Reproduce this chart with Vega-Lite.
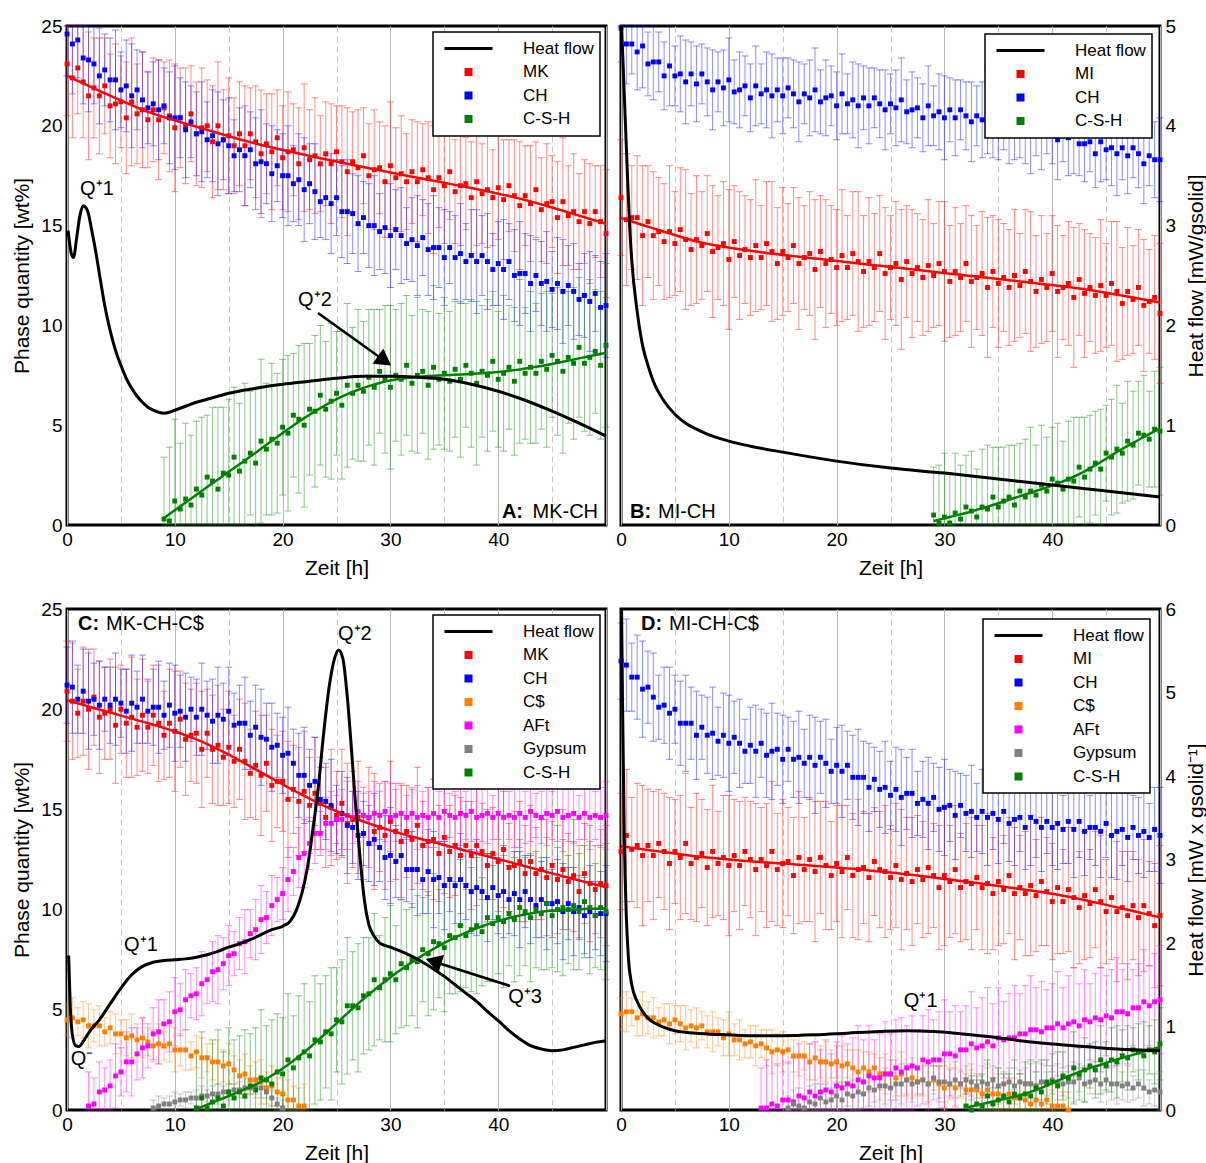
{
  "$schema": "https://vega.github.io/schema/vega-lite/v6.json",
  "background": "white",
  "padding": {"left": 10, "top": 15, "right": 0, "bottom": 0},
  "datasets": {
    "A_MK": [{"t":0,"v":23.1,"e":2.6},{"t":0.5,"v":22.4,"e":3.0},{"t":1,"v":22.9,"e":2.3},{"t":1.5,"v":22.2,"e":2.8},{"t":2,"v":21.5,"e":3.2},{"t":2.5,"v":21.9,"e":2.5},{"t":3,"v":21.5,"e":2.9},{"t":3.5,"v":22.0,"e":2.4},{"t":4,"v":21.0,"e":2.6},{"t":4.5,"v":21.1,"e":3.0},{"t":5,"v":21.2,"e":2.3},{"t":5.5,"v":20.4,"e":2.8},{"t":6,"v":21.2,"e":3.2},{"t":6.5,"v":20.6,"e":2.5},{"t":7,"v":20.8,"e":2.9},{"t":7.5,"v":20.3,"e":2.4},{"t":8,"v":20.8,"e":2.6},{"t":8.5,"v":20.3,"e":3.0},{"t":9,"v":20.9,"e":2.3},{"t":9.5,"v":20.5,"e":2.8},{"t":10,"v":19.9,"e":3.2},{"t":10.5,"v":20.4,"e":2.5},{"t":11,"v":20.0,"e":2.9},{"t":11.5,"v":20.6,"e":2.4},{"t":12,"v":19.6,"e":2.6},{"t":12.5,"v":19.9,"e":3.0},{"t":13,"v":20.0,"e":2.3},{"t":13.5,"v":19.2,"e":2.8},{"t":14,"v":20.0,"e":3.2},{"t":14.5,"v":19.3,"e":2.5},{"t":15,"v":19.5,"e":2.9},{"t":15.5,"v":19.0,"e":2.4},{"t":16,"v":19.6,"e":2.6},{"t":16.5,"v":19.0,"e":3.0},{"t":17,"v":19.6,"e":2.3},{"t":17.5,"v":19.2,"e":2.8},{"t":18,"v":18.6,"e":3.2},{"t":18.5,"v":19.1,"e":2.5},{"t":19,"v":18.7,"e":2.9},{"t":19.5,"v":19.4,"e":2.4},{"t":20,"v":18.4,"e":2.6},{"t":20.5,"v":18.7,"e":3.0},{"t":21,"v":18.8,"e":2.3},{"t":21.5,"v":18.1,"e":2.8},{"t":22,"v":18.9,"e":3.2},{"t":22.5,"v":18.3,"e":2.5},{"t":23,"v":18.5,"e":2.9},{"t":23.5,"v":18.1,"e":2.4},{"t":24,"v":18.6,"e":2.6},{"t":24.5,"v":18.1,"e":3.0},{"t":25,"v":18.7,"e":2.3},{"t":25.5,"v":18.2,"e":2.8},{"t":26,"v":17.7,"e":3.2},{"t":26.5,"v":18.2,"e":2.5},{"t":27,"v":17.9,"e":2.9},{"t":27.5,"v":18.5,"e":2.4},{"t":28,"v":17.5,"e":2.6},{"t":28.5,"v":17.8,"e":3.0},{"t":29,"v":17.9,"e":2.3},{"t":29.5,"v":17.2,"e":2.8},{"t":30,"v":18.0,"e":3.2},{"t":30.5,"v":17.4,"e":2.5},{"t":31,"v":17.6,"e":2.9},{"t":31.5,"v":17.2,"e":2.4},{"t":32,"v":17.7,"e":2.6},{"t":32.5,"v":17.2,"e":3.0},{"t":33,"v":17.8,"e":2.3},{"t":33.5,"v":17.4,"e":2.8},{"t":34,"v":16.8,"e":3.2},{"t":34.5,"v":17.4,"e":2.5},{"t":35,"v":17.0,"e":2.9},{"t":35.5,"v":17.7,"e":2.4},{"t":36,"v":16.7,"e":2.6},{"t":36.5,"v":17.0,"e":3.0},{"t":37,"v":17.1,"e":2.3},{"t":37.5,"v":16.4,"e":2.8},{"t":38,"v":17.2,"e":3.2},{"t":38.5,"v":16.6,"e":2.5},{"t":39,"v":16.8,"e":2.9},{"t":39.5,"v":16.4,"e":2.4},{"t":40,"v":16.9,"e":2.6},{"t":40.5,"v":16.3,"e":3.0},{"t":41,"v":17.0,"e":2.3},{"t":41.5,"v":16.5,"e":2.8},{"t":42,"v":16.0,"e":3.2},{"t":42.5,"v":16.5,"e":2.5},{"t":43,"v":16.1,"e":2.9},{"t":43.5,"v":16.8,"e":2.4},{"t":44,"v":15.8,"e":2.6},{"t":44.5,"v":16.1,"e":3.0},{"t":45,"v":16.2,"e":2.3},{"t":45.5,"v":15.4,"e":2.8},{"t":46,"v":16.2,"e":3.2},{"t":46.5,"v":15.5,"e":2.5},{"t":47,"v":15.7,"e":2.9},{"t":47.5,"v":15.2,"e":2.4},{"t":48,"v":15.7,"e":2.6},{"t":48.5,"v":15.1,"e":3.0},{"t":49,"v":15.7,"e":2.3},{"t":49.5,"v":15.2,"e":2.8},{"t":50,"v":14.6,"e":3.2}],
    "A_CH": [{"t":0,"v":24.6,"e":2.1},{"t":0.5,"v":24.1,"e":2.5},{"t":1,"v":24.3,"e":1.9},{"t":1.5,"v":23.4,"e":2.3},{"t":2,"v":23.3,"e":2.6},{"t":2.5,"v":23.1,"e":2.0},{"t":3,"v":22.5,"e":2.4},{"t":3.5,"v":22.8,"e":1.8},{"t":4,"v":22.3,"e":2.1},{"t":4.5,"v":22.3,"e":2.5},{"t":5,"v":21.8,"e":1.9},{"t":5.5,"v":22.0,"e":2.3},{"t":6,"v":21.5,"e":2.6},{"t":6.5,"v":21.8,"e":2.0},{"t":7,"v":21.3,"e":2.4},{"t":7.5,"v":20.9,"e":1.8},{"t":8,"v":21.1,"e":2.1},{"t":8.5,"v":20.8,"e":2.5},{"t":9,"v":21.0,"e":1.9},{"t":9.5,"v":20.4,"e":2.3},{"t":10,"v":20.4,"e":2.6},{"t":10.5,"v":20.4,"e":2.0},{"t":11,"v":19.8,"e":2.4},{"t":11.5,"v":20.2,"e":1.8},{"t":12,"v":19.6,"e":2.1},{"t":12.5,"v":19.7,"e":2.5},{"t":13,"v":19.3,"e":1.9},{"t":13.5,"v":19.5,"e":2.3},{"t":14,"v":19.1,"e":2.6},{"t":14.5,"v":19.3,"e":2.0},{"t":15,"v":19.0,"e":2.4},{"t":15.5,"v":18.5,"e":1.8},{"t":16,"v":18.8,"e":2.1},{"t":16.5,"v":18.5,"e":2.5},{"t":17,"v":18.8,"e":1.9},{"t":17.5,"v":18.1,"e":2.3},{"t":18,"v":18.2,"e":2.6},{"t":18.5,"v":18.1,"e":2.0},{"t":19,"v":17.6,"e":2.4},{"t":19.5,"v":18.0,"e":1.8},{"t":20,"v":17.5,"e":2.1},{"t":20.5,"v":17.5,"e":2.5},{"t":21,"v":17.1,"e":1.9},{"t":21.5,"v":17.3,"e":2.3},{"t":22,"v":16.8,"e":2.6},{"t":22.5,"v":17.1,"e":2.0},{"t":23,"v":16.7,"e":2.4},{"t":23.5,"v":16.2,"e":1.8},{"t":24,"v":16.4,"e":2.1},{"t":24.5,"v":16.1,"e":2.5},{"t":25,"v":16.4,"e":1.9},{"t":25.5,"v":15.7,"e":2.3},{"t":26,"v":15.7,"e":2.6},{"t":26.5,"v":15.6,"e":2.0},{"t":27,"v":15.1,"e":2.4},{"t":27.5,"v":15.4,"e":1.8},{"t":28,"v":15.0,"e":2.1},{"t":28.5,"v":15.0,"e":2.5},{"t":29,"v":14.7,"e":1.9},{"t":29.5,"v":14.9,"e":2.3},{"t":30,"v":14.5,"e":2.6},{"t":30.5,"v":14.8,"e":2.0},{"t":31,"v":14.5,"e":2.4},{"t":31.5,"v":14.1,"e":1.8},{"t":32,"v":14.3,"e":2.1},{"t":32.5,"v":14.0,"e":2.5},{"t":33,"v":14.4,"e":1.9},{"t":33.5,"v":13.8,"e":2.3},{"t":34,"v":13.9,"e":2.6},{"t":34.5,"v":13.9,"e":2.0},{"t":35,"v":13.4,"e":2.4},{"t":35.5,"v":13.9,"e":1.8},{"t":36,"v":13.4,"e":2.1},{"t":36.5,"v":13.6,"e":2.5},{"t":37,"v":13.2,"e":1.9},{"t":37.5,"v":13.5,"e":2.3},{"t":38,"v":13.2,"e":2.6},{"t":38.5,"v":13.5,"e":2.0},{"t":39,"v":13.2,"e":2.4},{"t":39.5,"v":12.8,"e":1.8},{"t":40,"v":13.1,"e":2.1},{"t":40.5,"v":12.8,"e":2.5},{"t":41,"v":13.2,"e":1.9},{"t":41.5,"v":12.5,"e":2.3},{"t":42,"v":12.6,"e":2.6},{"t":42.5,"v":12.6,"e":2.0},{"t":43,"v":12.1,"e":2.4},{"t":43.5,"v":12.5,"e":1.8},{"t":44,"v":12.1,"e":2.1},{"t":44.5,"v":12.2,"e":2.5},{"t":45,"v":11.8,"e":1.9},{"t":45.5,"v":12.1,"e":2.3},{"t":46,"v":11.7,"e":2.6},{"t":46.5,"v":12.0,"e":2.0},{"t":47,"v":11.7,"e":2.4},{"t":47.5,"v":11.3,"e":1.8},{"t":48,"v":11.5,"e":2.1},{"t":48.5,"v":11.2,"e":2.5},{"t":49,"v":11.6,"e":1.9},{"t":49.5,"v":10.9,"e":2.3},{"t":50,"v":11.0,"e":2.6}],
    "A_CSH": [{"t":9,"v":0.3,"e":3.1},{"t":9.5,"v":0.2,"e":3.7},{"t":10,"v":1.2,"e":4.1},{"t":10.5,"v":0.8,"e":3.3},{"t":11,"v":1.3,"e":3.8},{"t":11.5,"v":1.0,"e":3.5},{"t":12,"v":1.8,"e":3.4},{"t":12.5,"v":1.5,"e":3.9},{"t":13,"v":2.4,"e":3.1},{"t":13.5,"v":2.2,"e":3.7},{"t":14,"v":1.8,"e":4.1},{"t":14.5,"v":2.6,"e":3.3},{"t":15,"v":2.5,"e":3.8},{"t":15.5,"v":3.4,"e":3.5},{"t":16,"v":2.7,"e":3.4},{"t":16.5,"v":3.2,"e":3.9},{"t":17,"v":3.6,"e":3.1},{"t":17.5,"v":3.1,"e":3.7},{"t":18,"v":4.2,"e":4.1},{"t":18.5,"v":3.8,"e":3.3},{"t":19,"v":4.3,"e":3.8},{"t":19.5,"v":4.1,"e":3.5},{"t":20,"v":4.9,"e":3.4},{"t":20.5,"v":4.6,"e":3.9},{"t":21,"v":5.5,"e":3.1},{"t":21.5,"v":5.3,"e":3.7},{"t":22,"v":5.0,"e":4.1},{"t":22.5,"v":5.8,"e":3.3},{"t":23,"v":5.7,"e":3.8},{"t":23.5,"v":6.5,"e":3.5},{"t":24,"v":5.8,"e":3.4},{"t":24.5,"v":6.2,"e":3.9},{"t":25,"v":6.6,"e":3.1},{"t":25.5,"v":6.0,"e":3.7},{"t":26,"v":7.0,"e":4.1},{"t":26.5,"v":6.6,"e":3.3},{"t":27,"v":7.0,"e":3.8},{"t":27.5,"v":6.7,"e":3.5},{"t":28,"v":7.4,"e":3.4},{"t":28.5,"v":6.9,"e":3.9},{"t":29,"v":7.7,"e":3.1},{"t":29.5,"v":7.3,"e":3.7},{"t":30,"v":6.9,"e":4.1},{"t":30.5,"v":7.5,"e":3.3},{"t":31,"v":7.3,"e":3.8},{"t":31.5,"v":8.0,"e":3.5},{"t":32,"v":7.1,"e":3.4},{"t":32.5,"v":7.5,"e":3.9},{"t":33,"v":7.7,"e":3.1},{"t":33.5,"v":7.0,"e":3.7},{"t":34,"v":7.9,"e":4.1},{"t":34.5,"v":7.3,"e":3.3},{"t":35,"v":7.6,"e":3.8},{"t":35.5,"v":7.2,"e":3.5},{"t":36,"v":7.8,"e":3.4},{"t":36.5,"v":7.3,"e":3.9},{"t":37,"v":8.0,"e":3.1},{"t":37.5,"v":7.6,"e":3.7},{"t":38,"v":7.1,"e":4.1},{"t":38.5,"v":7.7,"e":3.3},{"t":39,"v":7.5,"e":3.8},{"t":39.5,"v":8.2,"e":3.5},{"t":40,"v":7.3,"e":3.4},{"t":40.5,"v":7.6,"e":3.9},{"t":41,"v":7.9,"e":3.1},{"t":41.5,"v":7.2,"e":3.7},{"t":42,"v":8.2,"e":4.1},{"t":42.5,"v":7.6,"e":3.3},{"t":43,"v":7.9,"e":3.8},{"t":43.5,"v":7.6,"e":3.5},{"t":44,"v":8.2,"e":3.4},{"t":44.5,"v":7.8,"e":3.9},{"t":45,"v":8.5,"e":3.1},{"t":45.5,"v":8.2,"e":3.7},{"t":46,"v":7.7,"e":4.1},{"t":46.5,"v":8.4,"e":3.3},{"t":47,"v":8.1,"e":3.8},{"t":47.5,"v":8.9,"e":3.5},{"t":48,"v":8.1,"e":3.4},{"t":48.5,"v":8.4,"e":3.9},{"t":49,"v":8.7,"e":3.1},{"t":49.5,"v":8.0,"e":3.7},{"t":50,"v":9.0,"e":4.1}],
    "A_heat": [{"t":0.1,"h":2.95},{"t":0.4,"h":2.72},{"t":0.6,"h":2.68},{"t":0.9,"h":2.88},{"t":1.2,"h":3.1},{"t":1.5,"h":3.2},{"t":1.9,"h":3.15},{"t":2.3,"h":2.95},{"t":2.7,"h":2.72},{"t":3,"h":2.52},{"t":3.5,"h":2.2},{"t":4,"h":1.95},{"t":4.5,"h":1.75},{"t":5,"h":1.6},{"t":5.5,"h":1.47},{"t":6,"h":1.37},{"t":6.5,"h":1.29},{"t":7,"h":1.23},{"t":7.5,"h":1.18},{"t":8,"h":1.15},{"t":8.5,"h":1.13},{"t":9,"h":1.12},{"t":9.5,"h":1.13},{"t":10,"h":1.15},{"t":11,"h":1.19},{"t":12,"h":1.23},{"t":13,"h":1.26},{"t":14,"h":1.29},{"t":15,"h":1.32},{"t":17.5,"h":1.37},{"t":20,"h":1.41},{"t":22.5,"h":1.44},{"t":25,"h":1.47},{"t":27.5,"h":1.49},{"t":30,"h":1.49},{"t":32.5,"h":1.48},{"t":35,"h":1.46},{"t":37.5,"h":1.41},{"t":40,"h":1.34},{"t":42.5,"h":1.25},{"t":45,"h":1.14},{"t":47.5,"h":1.02},{"t":50,"h":0.89}],
    "B_MI": [{"t":0,"v":16.4,"e":2.9},{"t":0.5,"v":15.3,"e":3.3},{"t":1,"v":15.4,"e":2.6},{"t":1.5,"v":15.4,"e":3.1},{"t":2,"v":14.5,"e":3.5},{"t":2.5,"v":15.2,"e":2.8},{"t":3,"v":14.5,"e":3.2},{"t":3.5,"v":14.7,"e":2.7},{"t":4,"v":14.2,"e":2.9},{"t":4.5,"v":14.7,"e":3.3},{"t":5,"v":14.1,"e":2.6},{"t":5.5,"v":14.8,"e":3.1},{"t":6,"v":14.3,"e":3.5},{"t":6.5,"v":13.8,"e":2.8},{"t":7,"v":14.3,"e":3.2},{"t":7.5,"v":14.0,"e":2.7},{"t":8,"v":14.6,"e":2.9},{"t":8.5,"v":13.7,"e":3.3},{"t":9,"v":13.9,"e":2.6},{"t":9.5,"v":14.1,"e":3.1},{"t":10,"v":13.3,"e":3.5},{"t":10.5,"v":14.2,"e":2.8},{"t":11,"v":13.5,"e":3.2},{"t":11.5,"v":13.8,"e":2.7},{"t":12,"v":13.4,"e":2.9},{"t":12.5,"v":14.0,"e":3.3},{"t":13,"v":13.4,"e":2.6},{"t":13.5,"v":14.1,"e":3.1},{"t":14,"v":13.7,"e":3.5},{"t":14.5,"v":13.1,"e":2.8},{"t":15,"v":13.7,"e":3.2},{"t":15.5,"v":13.4,"e":2.7},{"t":16,"v":14.0,"e":2.9},{"t":16.5,"v":13.1,"e":3.3},{"t":17,"v":13.4,"e":2.6},{"t":17.5,"v":13.6,"e":3.1},{"t":18,"v":12.8,"e":3.5},{"t":18.5,"v":13.7,"e":2.8},{"t":19,"v":13.1,"e":3.2},{"t":19.5,"v":13.3,"e":2.7},{"t":20,"v":12.9,"e":2.9},{"t":20.5,"v":13.5,"e":3.3},{"t":21,"v":12.9,"e":2.6},{"t":21.5,"v":13.6,"e":3.1},{"t":22,"v":13.2,"e":3.5},{"t":22.5,"v":12.7,"e":2.8},{"t":23,"v":13.2,"e":3.2},{"t":23.5,"v":12.9,"e":2.7},{"t":24,"v":13.6,"e":2.9},{"t":24.5,"v":12.6,"e":3.3},{"t":25,"v":12.9,"e":2.6},{"t":25.5,"v":13.1,"e":3.1},{"t":26,"v":12.3,"e":3.5},{"t":26.5,"v":13.2,"e":2.8},{"t":27,"v":12.6,"e":3.2},{"t":27.5,"v":12.9,"e":2.7},{"t":28,"v":12.4,"e":2.9},{"t":28.5,"v":13.0,"e":3.3},{"t":29,"v":12.5,"e":2.6},{"t":29.5,"v":13.1,"e":3.1},{"t":30,"v":12.7,"e":3.5},{"t":30.5,"v":12.2,"e":2.8},{"t":31,"v":12.7,"e":3.2},{"t":31.5,"v":12.4,"e":2.7},{"t":32,"v":13.1,"e":2.9},{"t":32.5,"v":12.2,"e":3.3},{"t":33,"v":12.4,"e":2.6},{"t":33.5,"v":12.6,"e":3.1},{"t":34,"v":11.9,"e":3.5},{"t":34.5,"v":12.7,"e":2.8},{"t":35,"v":12.1,"e":3.2},{"t":35.5,"v":12.4,"e":2.7},{"t":36,"v":11.9,"e":2.9},{"t":36.5,"v":12.5,"e":3.3},{"t":37,"v":12.0,"e":2.6},{"t":37.5,"v":12.7,"e":3.1},{"t":38,"v":12.2,"e":3.5},{"t":38.5,"v":11.7,"e":2.8},{"t":39,"v":12.3,"e":3.2},{"t":39.5,"v":11.9,"e":2.7},{"t":40,"v":12.6,"e":2.9},{"t":40.5,"v":11.7,"e":3.3},{"t":41,"v":11.9,"e":2.6},{"t":41.5,"v":12.1,"e":3.1},{"t":42,"v":11.4,"e":3.5},{"t":42.5,"v":12.3,"e":2.8},{"t":43,"v":11.6,"e":3.2},{"t":43.5,"v":11.9,"e":2.7},{"t":44,"v":11.5,"e":2.9},{"t":44.5,"v":12.0,"e":3.3},{"t":45,"v":11.5,"e":2.6},{"t":45.5,"v":12.1,"e":3.1},{"t":46,"v":11.7,"e":3.5},{"t":46.5,"v":11.1,"e":2.8},{"t":47,"v":11.7,"e":3.2},{"t":47.5,"v":11.3,"e":2.7},{"t":48,"v":11.9,"e":2.9},{"t":48.5,"v":11.0,"e":3.3},{"t":49,"v":11.2,"e":2.6},{"t":49.5,"v":11.4,"e":3.1},{"t":50,"v":10.6,"e":3.5}],
    "B_CH": [{"t":0,"v":24.9,"e":1.7},{"t":0.5,"v":24.1,"e":2.0},{"t":1,"v":24.1,"e":1.5},{"t":1.5,"v":23.7,"e":1.9},{"t":2,"v":24.0,"e":2.1},{"t":2.5,"v":23.1,"e":1.6},{"t":3,"v":23.2,"e":1.9},{"t":3.5,"v":23.2,"e":1.5},{"t":4,"v":22.5,"e":1.7},{"t":4.5,"v":23.0,"e":2.0},{"t":5,"v":22.5,"e":1.5},{"t":5.5,"v":22.6,"e":1.9},{"t":6,"v":22.2,"e":2.1},{"t":6.5,"v":22.6,"e":1.6},{"t":7,"v":22.1,"e":1.9},{"t":7.5,"v":22.6,"e":1.5},{"t":8,"v":22.2,"e":1.7},{"t":8.5,"v":21.8,"e":2.0},{"t":9,"v":22.2,"e":1.5},{"t":9.5,"v":21.9,"e":1.9},{"t":10,"v":22.3,"e":2.1},{"t":10.5,"v":21.7,"e":1.6},{"t":11,"v":21.8,"e":1.9},{"t":11.5,"v":22.0,"e":1.5},{"t":12,"v":21.4,"e":1.7},{"t":12.5,"v":22.0,"e":2.0},{"t":13,"v":21.6,"e":1.5},{"t":13.5,"v":21.8,"e":1.9},{"t":14,"v":21.5,"e":2.1},{"t":14.5,"v":21.8,"e":1.6},{"t":15,"v":21.5,"e":1.9},{"t":15.5,"v":21.9,"e":1.5},{"t":16,"v":21.6,"e":1.7},{"t":16.5,"v":21.2,"e":2.0},{"t":17,"v":21.6,"e":1.5},{"t":17.5,"v":21.4,"e":1.9},{"t":18,"v":21.8,"e":2.1},{"t":18.5,"v":21.2,"e":1.6},{"t":19,"v":21.4,"e":1.9},{"t":19.5,"v":21.5,"e":1.5},{"t":20,"v":21.0,"e":1.7},{"t":20.5,"v":21.6,"e":2.0},{"t":21,"v":21.1,"e":1.5},{"t":21.5,"v":21.3,"e":1.9},{"t":22,"v":21.0,"e":2.1},{"t":22.5,"v":21.4,"e":1.6},{"t":23,"v":21.0,"e":1.9},{"t":23.5,"v":21.4,"e":1.5},{"t":24,"v":21.1,"e":1.7},{"t":24.5,"v":20.8,"e":2.0},{"t":25,"v":21.1,"e":1.5},{"t":25.5,"v":20.9,"e":1.9},{"t":26,"v":21.3,"e":2.1},{"t":26.5,"v":20.7,"e":1.6},{"t":27,"v":20.8,"e":1.9},{"t":27.5,"v":20.9,"e":1.5},{"t":28,"v":20.4,"e":1.7},{"t":28.5,"v":21.0,"e":2.0},{"t":29,"v":20.5,"e":1.5},{"t":29.5,"v":20.7,"e":1.9},{"t":30,"v":20.4,"e":2.1},{"t":30.5,"v":20.8,"e":1.6},{"t":31,"v":20.4,"e":1.9},{"t":31.5,"v":20.8,"e":1.5},{"t":32,"v":20.5,"e":1.7},{"t":32.5,"v":20.2,"e":2.0},{"t":33,"v":20.5,"e":1.5},{"t":33.5,"v":20.3,"e":1.9},{"t":34,"v":20.7,"e":2.1},{"t":34.5,"v":20.0,"e":1.6},{"t":35,"v":20.2,"e":1.9},{"t":35.5,"v":20.3,"e":1.5},{"t":36,"v":19.8,"e":1.7},{"t":36.5,"v":20.3,"e":2.0},{"t":37,"v":19.9,"e":1.5},{"t":37.5,"v":20.0,"e":1.9},{"t":38,"v":19.7,"e":2.1},{"t":38.5,"v":20.1,"e":1.6},{"t":39,"v":19.7,"e":1.9},{"t":39.5,"v":20.1,"e":1.5},{"t":40,"v":19.8,"e":1.7},{"t":40.5,"v":19.3,"e":2.0},{"t":41,"v":19.7,"e":1.5},{"t":41.5,"v":19.4,"e":1.9},{"t":42,"v":19.7,"e":2.1},{"t":42.5,"v":19.1,"e":1.6},{"t":43,"v":19.1,"e":1.9},{"t":43.5,"v":19.2,"e":1.5},{"t":44,"v":18.6,"e":1.7},{"t":44.5,"v":19.2,"e":2.0},{"t":45,"v":18.8,"e":1.5},{"t":45.5,"v":18.9,"e":1.9},{"t":46,"v":18.6,"e":2.1},{"t":46.5,"v":18.9,"e":1.6},{"t":47,"v":18.5,"e":1.9},{"t":47.5,"v":18.9,"e":1.5},{"t":48,"v":18.6,"e":1.7},{"t":48.5,"v":18.1,"e":2.0},{"t":49,"v":18.5,"e":1.5},{"t":49.5,"v":18.3,"e":1.9},{"t":50,"v":18.3,"e":2.1}],
    "B_CSH": [{"t":29,"v":0.5,"e":2.4},{"t":29.5,"v":0.1,"e":2.9},{"t":30,"v":0.4,"e":3.2},{"t":30.5,"v":0.1,"e":2.5},{"t":31,"v":0.6,"e":3.0},{"t":31.5,"v":0.3,"e":2.7},{"t":32,"v":0.9,"e":2.6},{"t":32.5,"v":0.7,"e":3.0},{"t":33,"v":0.4,"e":2.4},{"t":33.5,"v":0.9,"e":2.9},{"t":34,"v":0.8,"e":3.2},{"t":34.5,"v":1.4,"e":2.5},{"t":35,"v":0.9,"e":3.0},{"t":35.5,"v":1.2,"e":2.7},{"t":36,"v":1.4,"e":2.6},{"t":36.5,"v":1.0,"e":3.0},{"t":37,"v":1.7,"e":2.4},{"t":37.5,"v":1.4,"e":2.9},{"t":38,"v":1.7,"e":3.2},{"t":38.5,"v":1.5,"e":2.5},{"t":39,"v":2.0,"e":3.0},{"t":39.5,"v":1.7,"e":2.7},{"t":40,"v":2.3,"e":2.6},{"t":40.5,"v":2.1,"e":3.0},{"t":41,"v":1.8,"e":2.4},{"t":41.5,"v":2.3,"e":2.9},{"t":42,"v":2.2,"e":3.2},{"t":42.5,"v":2.9,"e":2.5},{"t":43,"v":2.4,"e":3.0},{"t":43.5,"v":2.8,"e":2.7},{"t":44,"v":3.1,"e":2.6},{"t":44.5,"v":2.8,"e":3.0},{"t":45,"v":3.6,"e":2.4},{"t":45.5,"v":3.4,"e":2.9},{"t":46,"v":3.8,"e":3.2},{"t":46.5,"v":3.6,"e":2.5},{"t":47,"v":4.2,"e":3.0},{"t":47.5,"v":4.0,"e":2.7},{"t":48,"v":4.6,"e":2.6},{"t":48.5,"v":4.5,"e":3.0},{"t":49,"v":4.3,"e":2.4},{"t":49.5,"v":4.8,"e":2.9},{"t":50,"v":4.7,"e":3.2}],
    "B_heat": [{"t":0.05,"h":5.0},{"t":0.2,"h":4.6},{"t":0.4,"h":4.05},{"t":0.6,"h":3.5},{"t":0.8,"h":3.0},{"t":1,"h":2.65},{"t":1.5,"h":2.14},{"t":2,"h":1.8},{"t":2.5,"h":1.6},{"t":3,"h":1.44},{"t":4,"h":1.24},{"t":5,"h":1.11},{"t":6,"h":1.02},{"t":7,"h":0.96},{"t":8,"h":0.91},{"t":10,"h":0.84},{"t":12,"h":0.79},{"t":15,"h":0.73},{"t":20,"h":0.64},{"t":25,"h":0.57},{"t":30,"h":0.52},{"t":35,"h":0.46},{"t":40,"h":0.4},{"t":45,"h":0.34},{"t":50,"h":0.28}],
    "C_MK": [{"t":0,"v":20.9,"e":2.5},{"t":0.5,"v":20.4,"e":2.9},{"t":1,"v":19.8,"e":2.2},{"t":1.5,"v":20.4,"e":2.7},{"t":2,"v":20.0,"e":3.0},{"t":2.5,"v":20.6,"e":2.4},{"t":3,"v":19.6,"e":2.8},{"t":3.5,"v":19.8,"e":2.3},{"t":4,"v":20.0,"e":2.5},{"t":4.5,"v":19.2,"e":2.9},{"t":5,"v":20.0,"e":2.2},{"t":5.5,"v":19.3,"e":2.7},{"t":6,"v":19.6,"e":3.0},{"t":6.5,"v":19.1,"e":2.4},{"t":7,"v":19.7,"e":2.8},{"t":7.5,"v":19.1,"e":2.3},{"t":8,"v":19.7,"e":2.5},{"t":8.5,"v":19.3,"e":2.9},{"t":9,"v":18.7,"e":2.2},{"t":9.5,"v":19.3,"e":2.7},{"t":10,"v":18.9,"e":3.0},{"t":10.5,"v":19.5,"e":2.4},{"t":11,"v":18.5,"e":2.8},{"t":11.5,"v":18.7,"e":2.3},{"t":12,"v":18.8,"e":2.5},{"t":12.5,"v":18.0,"e":2.9},{"t":13,"v":18.8,"e":2.2},{"t":13.5,"v":18.0,"e":2.7},{"t":14,"v":18.2,"e":3.0},{"t":14.5,"v":17.6,"e":2.4},{"t":15,"v":18.1,"e":2.8},{"t":15.5,"v":17.4,"e":2.3},{"t":16,"v":18.0,"e":2.5},{"t":16.5,"v":17.4,"e":2.9},{"t":17,"v":16.8,"e":2.2},{"t":17.5,"v":17.2,"e":2.7},{"t":18,"v":16.7,"e":3.0},{"t":18.5,"v":17.3,"e":2.4},{"t":19,"v":16.2,"e":2.8},{"t":19.5,"v":16.4,"e":2.3},{"t":20,"v":16.4,"e":2.5},{"t":20.5,"v":15.5,"e":2.9},{"t":21,"v":16.0,"e":2.2},{"t":21.5,"v":15.4,"e":2.7},{"t":22,"v":15.9,"e":3.0},{"t":22.5,"v":15.2,"e":2.4},{"t":23,"v":15.8,"e":2.8},{"t":23.5,"v":15.3,"e":2.3},{"t":24,"v":14.6,"e":2.5},{"t":24.5,"v":15.1,"e":2.9},{"t":25,"v":14.7,"e":2.2},{"t":25.5,"v":15.3,"e":2.7},{"t":26,"v":14.3,"e":3.0},{"t":26.5,"v":14.5,"e":2.4},{"t":27,"v":14.6,"e":2.8},{"t":27.5,"v":13.8,"e":2.3},{"t":28,"v":14.6,"e":2.5},{"t":28.5,"v":13.9,"e":2.9},{"t":29,"v":14.1,"e":2.2},{"t":29.5,"v":13.7,"e":2.7},{"t":30,"v":14.4,"e":3.0},{"t":30.5,"v":13.9,"e":2.4},{"t":31,"v":13.4,"e":2.8},{"t":31.5,"v":13.9,"e":2.3},{"t":32,"v":13.5,"e":2.5},{"t":32.5,"v":14.2,"e":2.9},{"t":33,"v":13.2,"e":2.2},{"t":33.5,"v":13.4,"e":2.7},{"t":34,"v":13.5,"e":3.0},{"t":34.5,"v":12.8,"e":2.4},{"t":35,"v":13.6,"e":2.8},{"t":35.5,"v":12.9,"e":2.3},{"t":36,"v":13.2,"e":2.5},{"t":36.5,"v":12.7,"e":2.9},{"t":37,"v":13.2,"e":2.2},{"t":37.5,"v":12.7,"e":2.7},{"t":38,"v":13.2,"e":3.0},{"t":38.5,"v":12.9,"e":2.4},{"t":39,"v":12.2,"e":2.8},{"t":39.5,"v":12.8,"e":2.3},{"t":40,"v":12.4,"e":2.5},{"t":40.5,"v":13.0,"e":2.9},{"t":41,"v":12.1,"e":2.2},{"t":41.5,"v":12.2,"e":2.7},{"t":42,"v":12.4,"e":3.0},{"t":42.5,"v":11.8,"e":2.4},{"t":43,"v":12.4,"e":2.8},{"t":43.5,"v":11.8,"e":2.3},{"t":44,"v":12.0,"e":2.5},{"t":44.5,"v":11.6,"e":2.9},{"t":45,"v":12.2,"e":2.2},{"t":45.5,"v":11.5,"e":2.7},{"t":46,"v":12.0,"e":3.0},{"t":46.5,"v":11.4,"e":2.4},{"t":47,"v":11.7,"e":2.8},{"t":47.5,"v":10.9,"e":2.3},{"t":48,"v":11.8,"e":2.5},{"t":48.5,"v":11.3,"e":2.9},{"t":49,"v":11.0,"e":2.2},{"t":49.5,"v":11.3,"e":2.7},{"t":50,"v":11.2,"e":3.0}],
    "C_CH": [{"t":0,"v":21.2,"e":1.9},{"t":0.5,"v":21.1,"e":2.3},{"t":1,"v":20.5,"e":1.7},{"t":1.5,"v":20.9,"e":2.1},{"t":2,"v":20.4,"e":2.4},{"t":2.5,"v":20.5,"e":1.8},{"t":3,"v":20.2,"e":2.2},{"t":3.5,"v":20.5,"e":1.6},{"t":4,"v":20.2,"e":1.9},{"t":4.5,"v":20.5,"e":2.3},{"t":5,"v":20.3,"e":1.7},{"t":5.5,"v":19.9,"e":2.1},{"t":6,"v":20.3,"e":2.4},{"t":6.5,"v":20.1,"e":1.8},{"t":7,"v":20.5,"e":2.2},{"t":7.5,"v":19.9,"e":1.6},{"t":8,"v":20.1,"e":1.9},{"t":8.5,"v":20.1,"e":2.3},{"t":9,"v":19.7,"e":1.7},{"t":9.5,"v":20.2,"e":2.1},{"t":10,"v":19.8,"e":2.4},{"t":10.5,"v":19.9,"e":1.8},{"t":11,"v":19.6,"e":2.2},{"t":11.5,"v":20.0,"e":1.6},{"t":12,"v":19.6,"e":1.9},{"t":12.5,"v":20.0,"e":2.3},{"t":13,"v":19.7,"e":1.7},{"t":13.5,"v":19.4,"e":2.1},{"t":14,"v":19.7,"e":2.4},{"t":14.5,"v":19.5,"e":1.8},{"t":15,"v":19.9,"e":2.2},{"t":15.5,"v":19.2,"e":1.6},{"t":16,"v":19.3,"e":1.9},{"t":16.5,"v":19.3,"e":2.3},{"t":17,"v":18.7,"e":1.7},{"t":17.5,"v":19.1,"e":2.1},{"t":18,"v":18.6,"e":2.4},{"t":18.5,"v":18.5,"e":1.8},{"t":19,"v":18.1,"e":2.2},{"t":19.5,"v":18.2,"e":1.6},{"t":20,"v":17.7,"e":1.9},{"t":20.5,"v":17.8,"e":2.3},{"t":21,"v":17.3,"e":1.7},{"t":21.5,"v":16.7,"e":2.1},{"t":22,"v":16.7,"e":2.4},{"t":22.5,"v":16.2,"e":1.8},{"t":23,"v":16.4,"e":2.2},{"t":23.5,"v":15.5,"e":1.6},{"t":24,"v":15.4,"e":1.9},{"t":24.5,"v":15.2,"e":2.3},{"t":25,"v":14.5,"e":1.7},{"t":25.5,"v":14.8,"e":2.1},{"t":26,"v":14.2,"e":2.4},{"t":26.5,"v":14.1,"e":1.8},{"t":27,"v":13.7,"e":2.2},{"t":27.5,"v":13.8,"e":1.6},{"t":28,"v":13.3,"e":1.9},{"t":28.5,"v":13.5,"e":2.3},{"t":29,"v":13.1,"e":1.7},{"t":29.5,"v":12.6,"e":2.1},{"t":30,"v":12.7,"e":2.4},{"t":30.5,"v":12.4,"e":1.8},{"t":31,"v":12.7,"e":2.2},{"t":31.5,"v":12.0,"e":1.6},{"t":32,"v":12.0,"e":1.9},{"t":32.5,"v":12.0,"e":2.3},{"t":33,"v":11.5,"e":1.7},{"t":33.5,"v":11.9,"e":2.1},{"t":34,"v":11.5,"e":2.4},{"t":34.5,"v":11.6,"e":1.8},{"t":35,"v":11.2,"e":2.2},{"t":35.5,"v":11.5,"e":1.6},{"t":36,"v":11.2,"e":1.9},{"t":36.5,"v":11.5,"e":2.3},{"t":37,"v":11.2,"e":1.7},{"t":37.5,"v":10.9,"e":2.1},{"t":38,"v":11.1,"e":2.4},{"t":38.5,"v":10.9,"e":1.8},{"t":39,"v":10.6,"e":2.2},{"t":39.5,"v":11.1,"e":1.6},{"t":40,"v":10.7,"e":1.9},{"t":40.5,"v":10.9,"e":2.3},{"t":41,"v":10.5,"e":1.7},{"t":41.5,"v":10.8,"e":2.1},{"t":42,"v":10.5,"e":2.4},{"t":42.5,"v":10.9,"e":1.8},{"t":43,"v":10.5,"e":2.2},{"t":43.5,"v":10.2,"e":1.6},{"t":44,"v":10.5,"e":1.9},{"t":44.5,"v":10.3,"e":2.3},{"t":45,"v":10.3,"e":1.7},{"t":45.5,"v":10.4,"e":2.1},{"t":46,"v":9.9,"e":2.4},{"t":46.5,"v":10.3,"e":1.8},{"t":47,"v":9.9,"e":2.2},{"t":47.5,"v":10.1,"e":1.6},{"t":48,"v":9.7,"e":1.9},{"t":48.5,"v":9.9,"e":2.3},{"t":49,"v":9.7,"e":1.7},{"t":49.5,"v":9.8,"e":2.1},{"t":50,"v":9.8,"e":2.4}],
    "C_CS": [{"t":0,"v":4.5,"e":0.8},{"t":0.5,"v":4.6,"e":1.0},{"t":1,"v":4.4,"e":0.7},{"t":1.5,"v":4.5,"e":0.9},{"t":2,"v":4.2,"e":1.1},{"t":2.5,"v":4.2,"e":0.8},{"t":3,"v":4.2,"e":1.0},{"t":3.5,"v":3.9,"e":0.7},{"t":4,"v":4.1,"e":0.8},{"t":4.5,"v":3.8,"e":1.0},{"t":5,"v":3.8,"e":0.7},{"t":5.5,"v":3.6,"e":0.9},{"t":6,"v":3.7,"e":1.1},{"t":6.5,"v":3.5,"e":0.8},{"t":7,"v":3.6,"e":1.0},{"t":7.5,"v":3.4,"e":0.7},{"t":8,"v":3.2,"e":0.8},{"t":8.5,"v":3.3,"e":1.0},{"t":9,"v":3.2,"e":0.7},{"t":9.5,"v":3.3,"e":0.9},{"t":10,"v":3.0,"e":1.1},{"t":10.5,"v":3.0,"e":0.8},{"t":11,"v":3.0,"e":1.0},{"t":11.5,"v":2.7,"e":0.7},{"t":12,"v":2.9,"e":0.8},{"t":12.5,"v":2.6,"e":1.0},{"t":13,"v":2.6,"e":0.7},{"t":13.5,"v":2.4,"e":0.9},{"t":14,"v":2.4,"e":1.1},{"t":14.5,"v":2.2,"e":0.8},{"t":15,"v":2.3,"e":1.0},{"t":15.5,"v":2.0,"e":0.7},{"t":16,"v":1.7,"e":0.8},{"t":16.5,"v":1.8,"e":1.0},{"t":17,"v":1.5,"e":0.7},{"t":17.5,"v":1.5,"e":0.9},{"t":18,"v":1.4,"e":1.1},{"t":18.5,"v":1.1,"e":0.8},{"t":19,"v":1.2,"e":1.0},{"t":19.5,"v":0.9,"e":0.7},{"t":20,"v":0.8,"e":0.8},{"t":20.5,"v":0.5,"e":1.0},{"t":21,"v":0.5,"e":0.7},{"t":21.5,"v":0.2,"e":0.9},{"t":22,"v":0.2,"e":1.1}],
    "C_AFt": [{"t":2,"v":0.2,"e":1.7},{"t":2.5,"v":0.3,"e":1.3},{"t":3,"v":0.9,"e":1.5},{"t":3.5,"v":1.0,"e":1.1},{"t":4,"v":1.2,"e":1.3},{"t":4.5,"v":1.7,"e":1.6},{"t":5,"v":1.9,"e":1.2},{"t":5.5,"v":2.4,"e":1.5},{"t":6,"v":2.4,"e":1.7},{"t":6.5,"v":2.8,"e":1.3},{"t":7,"v":3.1,"e":1.5},{"t":7.5,"v":3.2,"e":1.1},{"t":8,"v":3.8,"e":1.3},{"t":8.5,"v":3.9,"e":1.6},{"t":9,"v":4.3,"e":1.2},{"t":9.5,"v":4.4,"e":1.5},{"t":10,"v":4.9,"e":1.7},{"t":10.5,"v":5.0,"e":1.3},{"t":11,"v":5.5,"e":1.5},{"t":11.5,"v":5.7,"e":1.1},{"t":12,"v":5.8,"e":1.3},{"t":12.5,"v":6.3,"e":1.6},{"t":13,"v":6.5,"e":1.2},{"t":13.5,"v":6.9,"e":1.5},{"t":14,"v":7.0,"e":1.7},{"t":14.5,"v":7.3,"e":1.3},{"t":15,"v":7.7,"e":1.5},{"t":15.5,"v":7.8,"e":1.1},{"t":16,"v":8.3,"e":1.3},{"t":16.5,"v":8.4,"e":1.6},{"t":17,"v":8.8,"e":1.2},{"t":17.5,"v":9.0,"e":1.5},{"t":18,"v":9.5,"e":1.7},{"t":18.5,"v":9.6,"e":1.3},{"t":19,"v":10.2,"e":1.5},{"t":19.5,"v":10.5,"e":1.1},{"t":20,"v":10.8,"e":1.3},{"t":20.5,"v":11.5,"e":1.6},{"t":21,"v":11.9,"e":1.2},{"t":21.5,"v":12.6,"e":1.5},{"t":22,"v":12.8,"e":1.7},{"t":22.5,"v":13.3,"e":1.3},{"t":23,"v":13.8,"e":1.5},{"t":23.5,"v":13.8,"e":1.1},{"t":24,"v":14.3,"e":1.3},{"t":24.5,"v":14.3,"e":1.6},{"t":25,"v":14.5,"e":1.2},{"t":25.5,"v":14.5,"e":1.5},{"t":26,"v":14.7,"e":1.7},{"t":26.5,"v":14.6,"e":1.3},{"t":27,"v":14.9,"e":1.5},{"t":27.5,"v":14.7,"e":1.1},{"t":28,"v":14.6,"e":1.3},{"t":28.5,"v":14.8,"e":1.6},{"t":29,"v":14.7,"e":1.2},{"t":29.5,"v":14.9,"e":1.5},{"t":30,"v":14.6,"e":1.7},{"t":30.5,"v":14.7,"e":1.3},{"t":31,"v":14.8,"e":1.5},{"t":31.5,"v":14.6,"e":1.1},{"t":32,"v":14.8,"e":1.3},{"t":32.5,"v":14.6,"e":1.6},{"t":33,"v":14.7,"e":1.2},{"t":33.5,"v":14.6,"e":1.5},{"t":34,"v":14.8,"e":1.7},{"t":34.5,"v":14.6,"e":1.3},{"t":35,"v":14.9,"e":1.5},{"t":35.5,"v":14.7,"e":1.1},{"t":36,"v":14.6,"e":1.3},{"t":36.5,"v":14.8,"e":1.6},{"t":37,"v":14.7,"e":1.2},{"t":37.5,"v":14.9,"e":1.5},{"t":38,"v":14.6,"e":1.7},{"t":38.5,"v":14.7,"e":1.3},{"t":39,"v":14.8,"e":1.5},{"t":39.5,"v":14.6,"e":1.1},{"t":40,"v":14.8,"e":1.3},{"t":40.5,"v":14.6,"e":1.6},{"t":41,"v":14.7,"e":1.2},{"t":41.5,"v":14.6,"e":1.5},{"t":42,"v":14.8,"e":1.7},{"t":42.5,"v":14.6,"e":1.3},{"t":43,"v":14.9,"e":1.5},{"t":43.5,"v":14.7,"e":1.1},{"t":44,"v":14.6,"e":1.3},{"t":44.5,"v":14.8,"e":1.6},{"t":45,"v":14.7,"e":1.2},{"t":45.5,"v":14.9,"e":1.5},{"t":46,"v":14.6,"e":1.7},{"t":46.5,"v":14.7,"e":1.3},{"t":47,"v":14.8,"e":1.5},{"t":47.5,"v":14.6,"e":1.1},{"t":48,"v":14.8,"e":1.3},{"t":48.5,"v":14.6,"e":1.6},{"t":49,"v":14.7,"e":1.2},{"t":49.5,"v":14.6,"e":1.5},{"t":50,"v":14.7,"e":1.7}],
    "C_Gyp": [{"t":8,"v":0.1,"e":0.4},{"t":8.5,"v":0.2,"e":0.5},{"t":9,"v":0.3,"e":0.3},{"t":9.5,"v":0.3,"e":0.4},{"t":10,"v":0.4,"e":0.5},{"t":10.5,"v":0.5,"e":0.3},{"t":11,"v":0.5,"e":0.4},{"t":11.5,"v":0.6,"e":0.3},{"t":12,"v":0.6,"e":0.4},{"t":12.5,"v":0.7,"e":0.5},{"t":13,"v":0.7,"e":0.3},{"t":13.5,"v":0.8,"e":0.4},{"t":14,"v":0.8,"e":0.5},{"t":14.5,"v":0.9,"e":0.3},{"t":15,"v":0.9,"e":0.4},{"t":15.5,"v":1.0,"e":0.3},{"t":16,"v":1.0,"e":0.4},{"t":16.5,"v":1.1,"e":0.5},{"t":17,"v":1.1,"e":0.3},{"t":17.5,"v":1.2,"e":0.4},{"t":18,"v":1.1,"e":0.5},{"t":18.5,"v":0.9,"e":0.3},{"t":19,"v":0.6,"e":0.4},{"t":19.5,"v":0.3,"e":0.3},{"t":20,"v":0.1,"e":0.4}],
    "C_CSH": [{"t":12,"v":0.1,"e":2.8},{"t":12.5,"v":0.6,"e":3.3},{"t":13,"v":0.1,"e":2.6},{"t":13.5,"v":0.4,"e":3.1},{"t":14,"v":0.6,"e":3.4},{"t":14.5,"v":0.2,"e":2.7},{"t":15,"v":0.9,"e":3.2},{"t":15.5,"v":0.6,"e":2.9},{"t":16,"v":0.9,"e":2.8},{"t":16.5,"v":0.7,"e":3.3},{"t":17,"v":1.2,"e":2.6},{"t":17.5,"v":1.0,"e":3.1},{"t":18,"v":1.6,"e":3.4},{"t":18.5,"v":1.5,"e":2.7},{"t":19,"v":1.3,"e":3.2},{"t":19.5,"v":1.9,"e":2.9},{"t":20,"v":1.8,"e":2.8},{"t":20.5,"v":2.5,"e":3.3},{"t":21,"v":2.1,"e":2.6},{"t":21.5,"v":2.6,"e":3.1},{"t":22,"v":2.9,"e":3.4},{"t":22.5,"v":2.7,"e":2.7},{"t":23,"v":3.5,"e":3.2},{"t":23.5,"v":3.4,"e":2.9},{"t":24,"v":3.9,"e":2.8},{"t":24.5,"v":3.8,"e":3.3},{"t":25,"v":4.5,"e":2.6},{"t":25.5,"v":4.4,"e":3.1},{"t":26,"v":5.2,"e":3.4},{"t":26.5,"v":5.2,"e":2.7},{"t":27,"v":5.1,"e":3.2},{"t":27.5,"v":5.7,"e":2.9},{"t":28,"v":5.8,"e":2.8},{"t":28.5,"v":6.5,"e":3.3},{"t":29,"v":6.1,"e":2.6},{"t":29.5,"v":6.5,"e":3.1},{"t":30,"v":6.8,"e":3.4},{"t":30.5,"v":6.5,"e":2.7},{"t":31,"v":7.3,"e":3.2},{"t":31.5,"v":7.1,"e":2.9},{"t":32,"v":7.5,"e":2.8},{"t":32.5,"v":7.4,"e":3.3},{"t":33,"v":8.0,"e":2.6},{"t":33.5,"v":7.8,"e":3.1},{"t":34,"v":8.4,"e":3.4},{"t":34.5,"v":8.3,"e":2.7},{"t":35,"v":8.1,"e":3.2},{"t":35.5,"v":8.7,"e":2.9},{"t":36,"v":8.6,"e":2.8},{"t":36.5,"v":9.2,"e":3.3},{"t":37,"v":8.7,"e":2.6},{"t":37.5,"v":9.0,"e":3.1},{"t":38,"v":9.2,"e":3.4},{"t":38.5,"v":8.9,"e":2.7},{"t":39,"v":9.6,"e":3.2},{"t":39.5,"v":9.3,"e":2.9},{"t":40,"v":9.6,"e":2.8},{"t":40.5,"v":9.4,"e":3.3},{"t":41,"v":9.8,"e":2.6},{"t":41.5,"v":9.5,"e":3.1},{"t":42,"v":10.1,"e":3.4},{"t":42.5,"v":9.9,"e":2.7},{"t":43,"v":9.6,"e":3.2},{"t":43.5,"v":10.0,"e":2.9},{"t":44,"v":9.8,"e":2.8},{"t":44.5,"v":10.3,"e":3.3},{"t":45,"v":9.7,"e":2.6},{"t":45.5,"v":10.0,"e":3.1},{"t":46,"v":10.1,"e":3.4},{"t":46.5,"v":10.0,"e":2.7},{"t":47,"v":10.2,"e":3.2},{"t":47.5,"v":9.9,"e":2.9},{"t":48,"v":10.4,"e":2.8},{"t":48.5,"v":10.1,"e":3.3},{"t":49,"v":9.7,"e":2.6},{"t":49.5,"v":10.1,"e":3.1},{"t":50,"v":9.9,"e":3.4}],
    "C_heat": [{"t":0.15,"h":1.85},{"t":0.3,"h":1.25},{"t":0.5,"h":0.9},{"t":0.8,"h":0.77},{"t":1.1,"h":0.76},{"t":1.6,"h":0.84},{"t":2.2,"h":0.96},{"t":3,"h":1.08},{"t":4,"h":1.27},{"t":5,"h":1.46},{"t":6,"h":1.62},{"t":7,"h":1.72},{"t":8,"h":1.77},{"t":9,"h":1.79},{"t":10,"h":1.8},{"t":11,"h":1.81},{"t":12,"h":1.83},{"t":13,"h":1.86},{"t":14,"h":1.9},{"t":15,"h":1.95},{"t":16,"h":1.99},{"t":17,"h":2.04},{"t":18,"h":2.1},{"t":19,"h":2.16},{"t":20,"h":2.2},{"t":20.7,"h":2.26},{"t":21.3,"h":2.4},{"t":21.8,"h":2.6},{"t":22.3,"h":2.9},{"t":22.8,"h":3.35},{"t":23.3,"h":3.85},{"t":23.8,"h":4.5},{"t":24.3,"h":5.05},{"t":24.8,"h":5.4},{"t":25.2,"h":5.51},{"t":25.6,"h":5.4},{"t":26,"h":4.95},{"t":26.4,"h":4.3},{"t":26.8,"h":3.6},{"t":27.2,"h":3.0},{"t":27.6,"h":2.5},{"t":28,"h":2.22},{"t":28.5,"h":2.08},{"t":29,"h":2.0},{"t":30,"h":1.95},{"t":31,"h":1.9},{"t":32,"h":1.84},{"t":33,"h":1.77},{"t":34,"h":1.69},{"t":35,"h":1.6},{"t":36,"h":1.5},{"t":37,"h":1.4},{"t":38,"h":1.3},{"t":39,"h":1.18},{"t":40,"h":1.07},{"t":41,"h":0.95},{"t":42,"h":0.85},{"t":43,"h":0.77},{"t":44,"h":0.73},{"t":45,"h":0.71},{"t":46,"h":0.72},{"t":47,"h":0.75},{"t":48,"h":0.78},{"t":49,"h":0.81},{"t":50,"h":0.83}],
    "D_MI": [{"t":0,"v":12.9,"e":2.9},{"t":0.5,"v":13.7,"e":3.3},{"t":1,"v":13.0,"e":2.6},{"t":1.5,"v":13.2,"e":3.1},{"t":2,"v":12.7,"e":3.5},{"t":2.5,"v":13.2,"e":2.8},{"t":3,"v":12.7,"e":3.2},{"t":3.5,"v":13.3,"e":2.7},{"t":4,"v":12.9,"e":2.9},{"t":4.5,"v":12.3,"e":3.3},{"t":5,"v":12.9,"e":2.6},{"t":5.5,"v":12.6,"e":3.1},{"t":6,"v":13.3,"e":3.5},{"t":6.5,"v":12.3,"e":2.8},{"t":7,"v":12.6,"e":3.2},{"t":7.5,"v":12.8,"e":2.7},{"t":8,"v":12.1,"e":2.9},{"t":8.5,"v":12.9,"e":3.3},{"t":9,"v":12.3,"e":2.6},{"t":9.5,"v":12.6,"e":3.1},{"t":10,"v":12.2,"e":3.5},{"t":10.5,"v":12.7,"e":2.8},{"t":11,"v":12.2,"e":3.2},{"t":11.5,"v":12.9,"e":2.7},{"t":12,"v":12.5,"e":2.9},{"t":12.5,"v":12.0,"e":3.3},{"t":13,"v":12.5,"e":2.6},{"t":13.5,"v":12.2,"e":3.1},{"t":14,"v":12.9,"e":3.5},{"t":14.5,"v":12.0,"e":2.8},{"t":15,"v":12.3,"e":3.2},{"t":15.5,"v":12.4,"e":2.7},{"t":16,"v":11.7,"e":2.9},{"t":16.5,"v":12.6,"e":3.3},{"t":17,"v":12.0,"e":2.6},{"t":17.5,"v":12.5,"e":3.1},{"t":18,"v":11.9,"e":3.5},{"t":18.5,"v":12.6,"e":2.8},{"t":19,"v":12.2,"e":3.2},{"t":19.5,"v":11.7,"e":2.7},{"t":20,"v":12.3,"e":2.9},{"t":20.5,"v":11.9,"e":3.3},{"t":21,"v":12.6,"e":2.6},{"t":21.5,"v":11.7,"e":3.1},{"t":22,"v":12.0,"e":3.5},{"t":22.5,"v":12.1,"e":2.8},{"t":23,"v":11.6,"e":3.2},{"t":23.5,"v":12.4,"e":2.7},{"t":24,"v":12.0,"e":2.9},{"t":24.5,"v":11.9,"e":3.3},{"t":25,"v":11.6,"e":2.6},{"t":25.5,"v":12.2,"e":3.1},{"t":26,"v":11.5,"e":3.5},{"t":26.5,"v":11.8,"e":2.8},{"t":27,"v":11.4,"e":3.2},{"t":27.5,"v":12.0,"e":2.7},{"t":28,"v":11.5,"e":2.9},{"t":28.5,"v":12.1,"e":3.3},{"t":29,"v":11.7,"e":2.6},{"t":29.5,"v":11.1,"e":3.1},{"t":30,"v":11.7,"e":3.5},{"t":30.5,"v":11.4,"e":2.8},{"t":31,"v":12.0,"e":3.2},{"t":31.5,"v":11.1,"e":2.7},{"t":32,"v":11.4,"e":2.9},{"t":32.5,"v":11.3,"e":3.3},{"t":33,"v":11.6,"e":2.6},{"t":33.5,"v":11.1,"e":3.1},{"t":34,"v":11.3,"e":3.5},{"t":34.5,"v":10.8,"e":2.8},{"t":35,"v":11.4,"e":3.2},{"t":35.5,"v":11.0,"e":2.7},{"t":36,"v":11.7,"e":2.9},{"t":36.5,"v":10.8,"e":3.3},{"t":37,"v":11.1,"e":2.6},{"t":37.5,"v":10.8,"e":3.1},{"t":38,"v":11.2,"e":3.5},{"t":38.5,"v":10.7,"e":2.8},{"t":39,"v":11.4,"e":3.2},{"t":39.5,"v":10.9,"e":2.7},{"t":40,"v":10.4,"e":2.9},{"t":40.5,"v":11.1,"e":3.3},{"t":41,"v":10.4,"e":2.6},{"t":41.5,"v":11.0,"e":3.1},{"t":42,"v":10.6,"e":3.5},{"t":42.5,"v":10.1,"e":2.8},{"t":43,"v":10.7,"e":3.2},{"t":43.5,"v":10.3,"e":2.7},{"t":44,"v":11.0,"e":2.9},{"t":44.5,"v":10.4,"e":3.3},{"t":45,"v":9.9,"e":2.6},{"t":45.5,"v":10.6,"e":3.1},{"t":46,"v":9.9,"e":3.5},{"t":46.5,"v":10.1,"e":2.8},{"t":47,"v":9.7,"e":3.2},{"t":47.5,"v":10.2,"e":2.7},{"t":48,"v":9.6,"e":2.9},{"t":48.5,"v":10.2,"e":3.3},{"t":49,"v":9.8,"e":2.6},{"t":49.5,"v":9.2,"e":3.1},{"t":50,"v":9.7,"e":3.5}],
    "D_CH": [{"t":0,"v":22.4,"e":1.9},{"t":0.5,"v":22.2,"e":2.3},{"t":1,"v":21.6,"e":1.7},{"t":1.5,"v":21.6,"e":2.1},{"t":2,"v":21.0,"e":2.4},{"t":2.5,"v":21.1,"e":1.8},{"t":3,"v":20.6,"e":2.2},{"t":3.5,"v":20.1,"e":1.6},{"t":4,"v":20.2,"e":1.9},{"t":4.5,"v":19.8,"e":2.3},{"t":5,"v":20.0,"e":1.7},{"t":5.5,"v":19.3,"e":2.1},{"t":6,"v":19.3,"e":2.4},{"t":6.5,"v":19.3,"e":1.8},{"t":7,"v":18.7,"e":2.2},{"t":7.5,"v":19.1,"e":1.6},{"t":8,"v":18.7,"e":1.9},{"t":8.5,"v":18.8,"e":2.3},{"t":9,"v":18.4,"e":1.7},{"t":9.5,"v":18.7,"e":2.1},{"t":10,"v":18.3,"e":2.4},{"t":10.5,"v":18.6,"e":1.8},{"t":11,"v":18.3,"e":2.2},{"t":11.5,"v":17.9,"e":1.6},{"t":12,"v":18.2,"e":1.9},{"t":12.5,"v":17.9,"e":2.3},{"t":13,"v":18.3,"e":1.7},{"t":13.5,"v":17.7,"e":2.1},{"t":14,"v":17.9,"e":2.4},{"t":14.5,"v":18.0,"e":1.8},{"t":15,"v":17.5,"e":2.2},{"t":15.5,"v":18.0,"e":1.6},{"t":16,"v":17.5,"e":1.9},{"t":16.5,"v":17.6,"e":2.3},{"t":17,"v":17.3,"e":1.7},{"t":17.5,"v":17.6,"e":2.1},{"t":18,"v":17.2,"e":2.4},{"t":18.5,"v":17.6,"e":1.8},{"t":19,"v":17.3,"e":2.2},{"t":19.5,"v":16.9,"e":1.6},{"t":20,"v":17.2,"e":1.9},{"t":20.5,"v":16.9,"e":2.3},{"t":21,"v":17.2,"e":1.7},{"t":21.5,"v":16.6,"e":2.1},{"t":22,"v":16.6,"e":2.4},{"t":22.5,"v":16.6,"e":1.8},{"t":23,"v":16.1,"e":2.2},{"t":23.5,"v":16.5,"e":1.6},{"t":24,"v":16.0,"e":1.9},{"t":24.5,"v":16.1,"e":2.3},{"t":25,"v":15.7,"e":1.7},{"t":25.5,"v":16.0,"e":2.1},{"t":26,"v":15.6,"e":2.4},{"t":26.5,"v":15.8,"e":1.8},{"t":27,"v":15.8,"e":2.2},{"t":27.5,"v":15.3,"e":1.6},{"t":28,"v":15.5,"e":1.9},{"t":28.5,"v":15.3,"e":2.3},{"t":29,"v":15.6,"e":1.7},{"t":29.5,"v":15.0,"e":2.1},{"t":30,"v":15.1,"e":2.4},{"t":30.5,"v":15.2,"e":1.8},{"t":31,"v":14.7,"e":2.2},{"t":31.5,"v":15.2,"e":1.6},{"t":32,"v":14.8,"e":1.9},{"t":32.5,"v":14.9,"e":2.3},{"t":33,"v":14.6,"e":1.7},{"t":33.5,"v":14.9,"e":2.1},{"t":34,"v":14.6,"e":2.4},{"t":34.5,"v":14.8,"e":1.8},{"t":35,"v":14.5,"e":2.2},{"t":35.5,"v":14.9,"e":1.6},{"t":36,"v":14.3,"e":1.9},{"t":36.5,"v":14.5,"e":2.3},{"t":37,"v":14.6,"e":1.7},{"t":37.5,"v":14.1,"e":2.1},{"t":38,"v":14.6,"e":2.4},{"t":38.5,"v":14.4,"e":1.8},{"t":39,"v":14.1,"e":2.2},{"t":39.5,"v":14.4,"e":1.6},{"t":40,"v":14.1,"e":1.9},{"t":40.5,"v":14.3,"e":2.3},{"t":41,"v":14.0,"e":1.7},{"t":41.5,"v":14.4,"e":2.1},{"t":42,"v":14.0,"e":2.4},{"t":42.5,"v":14.4,"e":1.8},{"t":43,"v":13.9,"e":2.2},{"t":43.5,"v":14.1,"e":1.6},{"t":44,"v":14.1,"e":1.9},{"t":44.5,"v":13.9,"e":2.3},{"t":45,"v":14.3,"e":1.7},{"t":45.5,"v":13.7,"e":2.1},{"t":46,"v":13.9,"e":2.4},{"t":46.5,"v":14.0,"e":1.8},{"t":47,"v":13.6,"e":2.2},{"t":47.5,"v":14.1,"e":1.6},{"t":48,"v":13.7,"e":1.9},{"t":48.5,"v":13.9,"e":2.3},{"t":49,"v":13.6,"e":1.7},{"t":49.5,"v":14.0,"e":2.1},{"t":50,"v":13.7,"e":2.4}],
    "D_CS": [{"t":0,"v":4.8,"e":0.8},{"t":0.5,"v":4.9,"e":1.0},{"t":1,"v":4.9,"e":0.7},{"t":1.5,"v":4.6,"e":0.9},{"t":2,"v":4.8,"e":1.1},{"t":2.5,"v":4.6,"e":0.8},{"t":3,"v":4.6,"e":1.0},{"t":3.5,"v":4.4,"e":0.7},{"t":4,"v":4.5,"e":0.8},{"t":4.5,"v":4.3,"e":1.0},{"t":5,"v":4.5,"e":0.7},{"t":5.5,"v":4.3,"e":0.9},{"t":6,"v":4.1,"e":1.1},{"t":6.5,"v":4.2,"e":0.8},{"t":7,"v":4.1,"e":1.0},{"t":7.5,"v":4.2,"e":0.7},{"t":8,"v":3.9,"e":0.8},{"t":8.5,"v":3.9,"e":1.0},{"t":9,"v":3.9,"e":0.7},{"t":9.5,"v":3.6,"e":0.9},{"t":10,"v":3.8,"e":1.1},{"t":10.5,"v":3.5,"e":0.8},{"t":11,"v":3.5,"e":1.0},{"t":11.5,"v":3.3,"e":0.7},{"t":12,"v":3.4,"e":0.8},{"t":12.5,"v":3.2,"e":1.0},{"t":13,"v":3.3,"e":0.7},{"t":13.5,"v":3.1,"e":0.9},{"t":14,"v":2.9,"e":1.1},{"t":14.5,"v":3.0,"e":0.8},{"t":15,"v":2.9,"e":1.0},{"t":15.5,"v":3.0,"e":0.7},{"t":16,"v":2.7,"e":0.8},{"t":16.5,"v":2.7,"e":1.0},{"t":17,"v":2.7,"e":0.7},{"t":17.5,"v":2.4,"e":0.9},{"t":18,"v":2.6,"e":1.1},{"t":18.5,"v":2.4,"e":0.8},{"t":19,"v":2.4,"e":1.0},{"t":19.5,"v":2.3,"e":0.7},{"t":20,"v":2.4,"e":0.8},{"t":20.5,"v":2.2,"e":1.0},{"t":21,"v":2.3,"e":0.7},{"t":21.5,"v":2.1,"e":0.9},{"t":22,"v":1.9,"e":1.1},{"t":22.5,"v":2.1,"e":0.8},{"t":23,"v":1.9,"e":1.0},{"t":23.5,"v":2.1,"e":0.7},{"t":24,"v":1.8,"e":0.8},{"t":24.5,"v":1.8,"e":1.0},{"t":25,"v":1.8,"e":0.7},{"t":25.5,"v":1.6,"e":0.9},{"t":26,"v":1.8,"e":1.1},{"t":26.5,"v":1.5,"e":0.8},{"t":27,"v":1.6,"e":1.0},{"t":27.5,"v":1.4,"e":0.7},{"t":28,"v":1.5,"e":0.8},{"t":28.5,"v":1.3,"e":1.0},{"t":29,"v":1.5,"e":0.7},{"t":29.5,"v":1.3,"e":0.9},{"t":30,"v":1.1,"e":1.1},{"t":30.5,"v":1.3,"e":0.8},{"t":31,"v":1.1,"e":1.0},{"t":31.5,"v":1.3,"e":0.7},{"t":32,"v":1.0,"e":0.8},{"t":32.5,"v":1.0,"e":1.0},{"t":33,"v":1.0,"e":0.7},{"t":33.5,"v":0.8,"e":0.9},{"t":34,"v":1.0,"e":1.1},{"t":34.5,"v":0.8,"e":0.8},{"t":35,"v":0.8,"e":1.0},{"t":35.5,"v":0.6,"e":0.7},{"t":36,"v":0.8,"e":0.8},{"t":36.5,"v":0.6,"e":1.0},{"t":37,"v":0.7,"e":0.7},{"t":37.5,"v":0.5,"e":0.9},{"t":38,"v":0.3,"e":1.1},{"t":38.5,"v":0.5,"e":0.8},{"t":39,"v":0.3,"e":1.0},{"t":39.5,"v":0.5,"e":0.7},{"t":40,"v":0.2,"e":0.8},{"t":40.5,"v":0.2,"e":1.0},{"t":41,"v":0.2,"e":0.7},{"t":41.5,"v":0.0,"e":0.9}],
    "D_AFt": [{"t":13,"v":0.1,"e":2.0},{"t":13.5,"v":0.1,"e":2.4},{"t":14,"v":0.3,"e":2.7},{"t":14.5,"v":0.2,"e":2.1},{"t":15,"v":0.5,"e":2.5},{"t":15.5,"v":0.5,"e":1.9},{"t":16,"v":0.4,"e":2.2},{"t":16.5,"v":0.7,"e":2.6},{"t":17,"v":0.6,"e":2.0},{"t":17.5,"v":0.9,"e":2.4},{"t":18,"v":0.7,"e":2.7},{"t":18.5,"v":0.9,"e":2.1},{"t":19,"v":1.0,"e":2.5},{"t":19.5,"v":0.9,"e":1.9},{"t":20,"v":1.2,"e":2.2},{"t":20.5,"v":1.1,"e":2.6},{"t":21,"v":1.3,"e":2.0},{"t":21.5,"v":1.2,"e":2.4},{"t":22,"v":1.5,"e":2.7},{"t":22.5,"v":1.4,"e":2.1},{"t":23,"v":1.7,"e":2.5},{"t":23.5,"v":1.6,"e":1.9},{"t":24,"v":1.6,"e":2.2},{"t":24.5,"v":1.8,"e":2.6},{"t":25,"v":1.8,"e":2.0},{"t":25.5,"v":2.1,"e":2.4},{"t":26,"v":1.9,"e":2.7},{"t":26.5,"v":2.1,"e":2.1},{"t":27,"v":2.2,"e":2.5},{"t":27.5,"v":2.1,"e":1.9},{"t":28,"v":2.5,"e":2.2},{"t":28.5,"v":2.4,"e":2.6},{"t":29,"v":2.5,"e":2.0},{"t":29.5,"v":2.5,"e":2.4},{"t":30,"v":2.8,"e":2.7},{"t":30.5,"v":2.8,"e":2.1},{"t":31,"v":2.7,"e":2.5},{"t":31.5,"v":3.0,"e":1.9},{"t":32,"v":3.0,"e":2.2},{"t":32.5,"v":3.3,"e":2.6},{"t":33,"v":3.1,"e":2.0},{"t":33.5,"v":3.2,"e":2.4},{"t":34,"v":3.4,"e":2.7},{"t":34.5,"v":3.2,"e":2.1},{"t":35,"v":3.6,"e":2.5},{"t":35.5,"v":3.5,"e":1.9},{"t":36,"v":3.6,"e":2.2},{"t":36.5,"v":3.6,"e":2.6},{"t":37,"v":3.8,"e":2.0},{"t":37.5,"v":3.8,"e":2.4},{"t":38,"v":4.0,"e":2.7},{"t":38.5,"v":4.0,"e":2.1},{"t":39,"v":3.9,"e":2.5},{"t":39.5,"v":4.1,"e":1.9},{"t":40,"v":4.1,"e":2.2},{"t":40.5,"v":4.3,"e":2.6},{"t":41,"v":4.1,"e":2.0},{"t":41.5,"v":4.3,"e":2.4},{"t":42,"v":4.4,"e":2.7},{"t":42.5,"v":4.2,"e":2.1},{"t":43,"v":4.5,"e":2.5},{"t":43.5,"v":4.4,"e":1.9},{"t":44,"v":4.6,"e":2.2},{"t":44.5,"v":4.5,"e":2.6},{"t":45,"v":4.7,"e":2.0},{"t":45.5,"v":4.6,"e":2.4},{"t":46,"v":4.9,"e":2.7},{"t":46.5,"v":4.9,"e":2.1},{"t":47,"v":4.8,"e":2.5},{"t":47.5,"v":5.1,"e":1.9},{"t":48,"v":5.1,"e":2.2},{"t":48.5,"v":5.4,"e":2.6},{"t":49,"v":5.2,"e":2.0},{"t":49.5,"v":5.4,"e":2.4},{"t":50,"v":5.5,"e":2.7}],
    "D_Gyp": [{"t":15.5,"v":0.1,"e":0.6},{"t":16,"v":0.3,"e":0.7},{"t":16.5,"v":0.2,"e":0.9},{"t":17,"v":0.1,"e":0.6},{"t":17.5,"v":0.4,"e":0.8},{"t":18,"v":0.3,"e":1.0},{"t":18.5,"v":0.6,"e":0.7},{"t":19,"v":0.4,"e":0.9},{"t":19.5,"v":0.5,"e":0.6},{"t":20,"v":0.7,"e":0.7},{"t":20.5,"v":0.5,"e":0.9},{"t":21,"v":0.8,"e":0.6},{"t":21.5,"v":0.7,"e":0.8},{"t":22,"v":0.9,"e":1.0},{"t":22.5,"v":0.8,"e":0.7},{"t":23,"v":1.1,"e":0.9},{"t":23.5,"v":1.0,"e":0.6},{"t":24,"v":1.2,"e":0.7},{"t":24.5,"v":1.2,"e":0.9},{"t":25,"v":1.1,"e":0.6},{"t":25.5,"v":1.3,"e":0.8},{"t":26,"v":1.3,"e":1.0},{"t":26.5,"v":1.5,"e":0.7},{"t":27,"v":1.3,"e":0.9},{"t":27.5,"v":1.4,"e":0.6},{"t":28,"v":1.5,"e":0.7},{"t":28.5,"v":1.3,"e":0.9},{"t":29,"v":1.6,"e":0.6},{"t":29.5,"v":1.4,"e":0.8},{"t":30,"v":1.4,"e":1.0},{"t":30.5,"v":1.3,"e":0.7},{"t":31,"v":1.5,"e":0.9},{"t":31.5,"v":1.3,"e":0.6},{"t":32,"v":1.5,"e":0.7},{"t":32.5,"v":1.4,"e":0.9},{"t":33,"v":1.2,"e":0.6},{"t":33.5,"v":1.4,"e":0.8},{"t":34,"v":1.3,"e":1.0},{"t":34.5,"v":1.5,"e":0.7},{"t":35,"v":1.2,"e":0.9},{"t":35.5,"v":1.3,"e":0.6},{"t":36,"v":1.4,"e":0.7},{"t":36.5,"v":1.2,"e":0.9},{"t":37,"v":1.4,"e":0.6},{"t":37.5,"v":1.3,"e":0.8},{"t":38,"v":1.3,"e":1.0},{"t":38.5,"v":1.2,"e":0.7},{"t":39,"v":1.4,"e":0.9},{"t":39.5,"v":1.3,"e":0.6},{"t":40,"v":1.5,"e":0.7},{"t":40.5,"v":1.4,"e":0.9},{"t":41,"v":1.3,"e":0.6},{"t":41.5,"v":1.4,"e":0.8},{"t":42,"v":1.4,"e":1.0},{"t":42.5,"v":1.6,"e":0.7},{"t":43,"v":1.3,"e":0.9},{"t":43.5,"v":1.4,"e":0.6},{"t":44,"v":1.5,"e":0.7},{"t":44.5,"v":1.3,"e":0.9},{"t":45,"v":1.5,"e":0.6},{"t":45.5,"v":1.3,"e":0.8},{"t":46,"v":1.3,"e":1.0},{"t":46.5,"v":1.2,"e":0.7},{"t":47,"v":1.3,"e":0.9},{"t":47.5,"v":1.1,"e":0.6},{"t":48,"v":1.3,"e":0.7},{"t":48.5,"v":1.1,"e":0.9},{"t":49,"v":0.9,"e":0.6},{"t":49.5,"v":1.0,"e":0.8},{"t":50,"v":0.9,"e":1.0}],
    "D_CSH": [{"t":32,"v":0.2,"e":1.4},{"t":32.5,"v":0.0,"e":1.7},{"t":33,"v":0.3,"e":1.2},{"t":33.5,"v":0.2,"e":1.6},{"t":34,"v":0.7,"e":1.8},{"t":34.5,"v":0.3,"e":1.3},{"t":35,"v":0.5,"e":1.6},{"t":35.5,"v":0.7,"e":1.1},{"t":36,"v":0.4,"e":1.4},{"t":36.5,"v":0.8,"e":1.7},{"t":37,"v":0.6,"e":1.2},{"t":37.5,"v":0.8,"e":1.6},{"t":38,"v":0.7,"e":1.8},{"t":38.5,"v":1.1,"e":1.3},{"t":39,"v":0.9,"e":1.6},{"t":39.5,"v":1.4,"e":1.1},{"t":40,"v":1.4,"e":1.4},{"t":40.5,"v":1.2,"e":1.7},{"t":41,"v":1.7,"e":1.2},{"t":41.5,"v":1.6,"e":1.6},{"t":42,"v":2.1,"e":1.8},{"t":42.5,"v":1.8,"e":1.3},{"t":43,"v":2.0,"e":1.6},{"t":43.5,"v":2.2,"e":1.1},{"t":44,"v":2.0,"e":1.4},{"t":44.5,"v":2.5,"e":1.7},{"t":45,"v":2.2,"e":1.2},{"t":45.5,"v":2.5,"e":1.6},{"t":46,"v":2.4,"e":1.8},{"t":46.5,"v":2.7,"e":1.3},{"t":47,"v":2.6,"e":1.6},{"t":47.5,"v":3.0,"e":1.1},{"t":48,"v":2.9,"e":1.4},{"t":48.5,"v":2.7,"e":1.7},{"t":49,"v":3.0,"e":1.2},{"t":49.5,"v":2.9,"e":1.6},{"t":50,"v":3.3,"e":1.8}],
    "D_heat": [{"t":0.05,"h":6.0},{"t":0.15,"h":4.8},{"t":0.3,"h":3.3},{"t":0.5,"h":2.3},{"t":0.7,"h":1.8},{"t":1,"h":1.5},{"t":1.5,"h":1.3},{"t":2,"h":1.18},{"t":2.5,"h":1.1},{"t":3,"h":1.05},{"t":4,"h":0.99},{"t":5,"h":0.95},{"t":6,"h":0.93},{"t":8,"h":0.91},{"t":10,"h":0.9},{"t":12,"h":0.89},{"t":15,"h":0.89},{"t":18,"h":0.9},{"t":21,"h":0.92},{"t":24,"h":0.94},{"t":26.5,"h":0.95},{"t":29,"h":0.94},{"t":31,"h":0.92},{"t":34,"h":0.88},{"t":37,"h":0.83},{"t":40,"h":0.79},{"t":43,"h":0.76},{"t":46,"h":0.73},{"t":50,"h":0.71}]
  },
  "vconcat": [
    {
      "hconcat": [
        {
          "width": 539, "height": 499,
          "layer": [
            {
              "layer": [
                {"data": {"name": "A_MK"}, "mark": {"type": "errorbar", "size": 7, "thickness": 1, "rule": {"opacity": 0.45}, "ticks": {"opacity": 0.45}},
                 "encoding": {"x": {"field": "t", "type": "quantitative"}, "y": {"field": "v", "type": "quantitative", "title": "Phase quantity [wt%]", "scale": {"domain": [0, 25], "nice": false, "clamp": true}}, "yError": {"field": "e"},
                   "color": {"datum": "MK", "type": "nominal", "scale": {"domain": ["Heat flow", "MK", "CH", "C-S-H"], "range": ["black", "#ff0000", "#0000ff", "#008000"]},
                     "legend": {"orient": "top-right", "offset": 6, "title": null, "symbolType": "square", "symbolSize": 64, "symbolOpacity": 1, "symbolStrokeWidth": 0,
                       "encode": {"symbols": {"update": {"shape": {"signal": "datum.value === 'Heat flow' ? 'M-6,0H6' : 'square'"}, "stroke": {"signal": "datum.value === 'Heat flow' ? 'black' : 'transparent'"}, "strokeWidth": {"signal": "datum.value === 'Heat flow' ? 3 : 0"}}}}}}}},
                {"data": {"name": "A_CH"}, "mark": {"type": "errorbar", "size": 7, "thickness": 1, "rule": {"opacity": 0.45}, "ticks": {"opacity": 0.45}},
                 "encoding": {"x": {"field": "t", "type": "quantitative"}, "y": {"field": "v", "type": "quantitative", "title": "Phase quantity [wt%]", "scale": {"domain": [0, 25], "nice": false, "clamp": true}}, "yError": {"field": "e"}, "color": {"datum": "CH", "type": "nominal"}}},
                {"data": {"name": "A_CSH"}, "mark": {"type": "errorbar", "size": 7, "thickness": 1, "rule": {"opacity": 0.45}, "ticks": {"opacity": 0.45}},
                 "encoding": {"x": {"field": "t", "type": "quantitative"}, "y": {"field": "v", "type": "quantitative", "title": "Phase quantity [wt%]", "scale": {"domain": [0, 25], "nice": false, "clamp": true}}, "yError": {"field": "e"}, "color": {"datum": "C-S-H", "type": "nominal"}}},
                {"data": {"name": "A_MK"}, "mark": {"type": "square", "size": 24, "opacity": 1},
                 "encoding": {"x": {"field": "t", "type": "quantitative"},
                   "y": {"field": "v", "type": "quantitative", "scale": {"domain": [0, 25], "nice": false, "clamp": true}, "axis": {"values": [0,5,10,15,20,25], "title": "Phase quantity [wt%]", "titlePadding": 8}},
                   "color": {"datum": "MK", "type": "nominal"}}},
                {"data": {"name": "A_CH"}, "mark": {"type": "square", "size": 24, "opacity": 1},
                 "encoding": {"x": {"field": "t", "type": "quantitative"}, "y": {"field": "v", "type": "quantitative"}, "color": {"datum": "CH", "type": "nominal"}}},
                {"data": {"name": "A_CSH"}, "mark": {"type": "square", "size": 24, "opacity": 1},
                 "encoding": {"x": {"field": "t", "type": "quantitative"}, "y": {"field": "v", "type": "quantitative"}, "color": {"datum": "C-S-H", "type": "nominal"}}},
                {"data": {"name": "A_MK"}, "transform": [{"loess": "v", "on": "t", "bandwidth": 0.3}], "mark": {"type": "line", "strokeWidth": 2.5},
                 "encoding": {"x": {"field": "t", "type": "quantitative"}, "y": {"field": "v", "type": "quantitative"}, "color": {"datum": "MK", "type": "nominal"}}},
                {"data": {"name": "A_CSH"}, "transform": [{"loess": "v", "on": "t", "bandwidth": 0.3}], "mark": {"type": "line", "strokeWidth": 2.5},
                 "encoding": {"x": {"field": "t", "type": "quantitative"}, "y": {"field": "v", "type": "quantitative"}, "color": {"datum": "C-S-H", "type": "nominal"}}},
                {"data": {"values": [{"t": 2.78, "v": 16.83, "label": "Q⁺1"}, {"t": 23.0, "v": 11.27, "label": "Q⁺2"}]},
                 "mark": {"type": "text", "fontSize": 20, "align": "center", "baseline": "middle"},
                 "encoding": {"x": {"field": "t", "type": "quantitative"}, "y": {"field": "v", "type": "quantitative"}, "text": {"field": "label"}}},
                {"data": {"values": [{"t": 23.28, "v": 10.62, "t2": 29.46, "v2": 8.23}]},
                 "mark": {"type": "rule", "strokeWidth": 2.5, "color": "black"},
                 "encoding": {"x": {"field": "t", "type": "quantitative"}, "y": {"field": "v", "type": "quantitative"}, "x2": {"field": "t2"}, "y2": {"field": "v2"}}},
                {"data": {"values": [{"t": 29.46, "v": 8.23}]},
                 "mark": {"type": "point", "shape": "triangle-right", "filled": true, "size": 350, "angle": 35, "color": "black", "opacity": 1},
                 "encoding": {"x": {"field": "t", "type": "quantitative"}, "y": {"field": "v", "type": "quantitative"}}},
                {"data": {"values": [{"t": 42.3, "v": 0.35, "label": "A:"}]},
                 "mark": {"type": "text", "fontSize": 20, "fontWeight": "bold", "align": "right", "baseline": "alphabetic"},
                 "encoding": {"x": {"field": "t", "type": "quantitative"}, "y": {"field": "v", "type": "quantitative"}, "text": {"field": "label"}}},
                {"data": {"values": [{"t": 49.26, "v": 0.35, "label": "MK-CH"}]},
                 "mark": {"type": "text", "fontSize": 20, "align": "right", "baseline": "alphabetic"},
                 "encoding": {"x": {"field": "t", "type": "quantitative"}, "y": {"field": "v", "type": "quantitative"}, "text": {"field": "label"}}}
              ]
            },
            {"data": {"name": "A_heat"}, "mark": {"type": "line", "color": "black", "strokeWidth": 3, "interpolate": "monotone"},
             "encoding": {
               "x": {"field": "t", "type": "quantitative", "scale": {"domain": [0, 50]}, "axis": {"values": [0,5,10,15,20,25,30,35,40,45,50], "grid": true, "gridColor": {"condition": {"test": "datum.value % 10 === 0", "value": "#b8b8b8"}, "value": "#c8c8c8"}, "gridDash": {"condition": {"test": "datum.value % 10 === 0", "value": []}, "value": [6, 4]}, "labelExpr": "datum.value % 10 === 0 && datum.value < 50 ? datum.label : ''", "title": "Zeit [h]", "titlePadding": 8}},
               "y": {"field": "h", "type": "quantitative", "scale": {"domain": [0, 5], "nice": false, "clamp": true}, "axis": null}}}
          ],
          "resolve": {"scale": {"y": "independent"}}
        },
        {
          "width": 539, "height": 499,
          "layer": [
            {
              "layer": [
                {"data": {"name": "B_MI"}, "mark": {"type": "errorbar", "size": 7, "thickness": 1, "rule": {"opacity": 0.45}, "ticks": {"opacity": 0.45}},
                 "encoding": {"x": {"field": "t", "type": "quantitative"}, "y": {"field": "v", "type": "quantitative", "axis": null, "scale": {"domain": [0, 25], "nice": false, "clamp": true}}, "yError": {"field": "e"},
                   "color": {"datum": "MI", "type": "nominal", "scale": {"domain": ["Heat flow", "MI", "CH", "C-S-H"], "range": ["black", "#ff0000", "#0000ff", "#008000"]},
                     "legend": {"orient": "top-right", "offset": 8, "title": null, "symbolType": "square", "symbolSize": 64, "symbolOpacity": 1, "symbolStrokeWidth": 0,
                       "encode": {"symbols": {"update": {"shape": {"signal": "datum.value === 'Heat flow' ? 'M-6,0H6' : 'square'"}, "stroke": {"signal": "datum.value === 'Heat flow' ? 'black' : 'transparent'"}, "strokeWidth": {"signal": "datum.value === 'Heat flow' ? 3 : 0"}}}}}}}},
                {"data": {"name": "B_CH"}, "mark": {"type": "errorbar", "size": 7, "thickness": 1, "rule": {"opacity": 0.45}, "ticks": {"opacity": 0.45}},
                 "encoding": {"x": {"field": "t", "type": "quantitative"}, "y": {"field": "v", "type": "quantitative", "axis": null, "scale": {"domain": [0, 25], "nice": false, "clamp": true}}, "yError": {"field": "e"}, "color": {"datum": "CH", "type": "nominal"}}},
                {"data": {"name": "B_CSH"}, "mark": {"type": "errorbar", "size": 7, "thickness": 1, "rule": {"opacity": 0.45}, "ticks": {"opacity": 0.45}},
                 "encoding": {"x": {"field": "t", "type": "quantitative"}, "y": {"field": "v", "type": "quantitative", "axis": null, "scale": {"domain": [0, 25], "nice": false, "clamp": true}}, "yError": {"field": "e"}, "color": {"datum": "C-S-H", "type": "nominal"}}},
                {"data": {"name": "B_MI"}, "mark": {"type": "square", "size": 24, "opacity": 1},
                 "encoding": {"x": {"field": "t", "type": "quantitative"}, "y": {"field": "v", "type": "quantitative", "scale": {"domain": [0, 25], "nice": false, "clamp": true}, "axis": null}, "color": {"datum": "MI", "type": "nominal"}}},
                {"data": {"name": "B_CH"}, "mark": {"type": "square", "size": 24, "opacity": 1},
                 "encoding": {"x": {"field": "t", "type": "quantitative"}, "y": {"field": "v", "type": "quantitative", "axis": null}, "color": {"datum": "CH", "type": "nominal"}}},
                {"data": {"name": "B_CSH"}, "mark": {"type": "square", "size": 24, "opacity": 1},
                 "encoding": {"x": {"field": "t", "type": "quantitative"}, "y": {"field": "v", "type": "quantitative", "axis": null}, "color": {"datum": "C-S-H", "type": "nominal"}}},
                {"data": {"name": "B_MI"}, "transform": [{"loess": "v", "on": "t", "bandwidth": 0.3}], "mark": {"type": "line", "strokeWidth": 2.5},
                 "encoding": {"x": {"field": "t", "type": "quantitative"}, "y": {"field": "v", "type": "quantitative", "axis": null}, "color": {"datum": "MI", "type": "nominal"}}},
                {"data": {"name": "B_CSH"}, "transform": [{"loess": "v", "on": "t", "bandwidth": 0.4}], "mark": {"type": "line", "strokeWidth": 2.5},
                 "encoding": {"x": {"field": "t", "type": "quantitative"}, "y": {"field": "v", "type": "quantitative", "axis": null}, "color": {"datum": "C-S-H", "type": "nominal"}}},
                {"data": {"values": [{"t": 0.83, "v": 0.35, "label": "B:"}]},
                 "mark": {"type": "text", "fontSize": 20, "fontWeight": "bold", "align": "left", "baseline": "alphabetic"},
                 "encoding": {"x": {"field": "t", "type": "quantitative"}, "y": {"field": "v", "type": "quantitative", "axis": null}, "text": {"field": "label"}}},
                {"data": {"values": [{"t": 3.43, "v": 0.35, "label": "MI-CH"}]},
                 "mark": {"type": "text", "fontSize": 20, "align": "left", "baseline": "alphabetic"},
                 "encoding": {"x": {"field": "t", "type": "quantitative"}, "y": {"field": "v", "type": "quantitative", "axis": null}, "text": {"field": "label"}}}
              ]
            },
            {"data": {"name": "B_heat"}, "mark": {"type": "line", "color": "black", "strokeWidth": 3, "interpolate": "monotone"},
             "encoding": {
               "x": {"field": "t", "type": "quantitative", "scale": {"domain": [0, 50]}, "axis": {"values": [0,5,10,15,20,25,30,35,40,45,50], "grid": true, "gridColor": {"condition": {"test": "datum.value % 10 === 0", "value": "#b8b8b8"}, "value": "#c8c8c8"}, "gridDash": {"condition": {"test": "datum.value % 10 === 0", "value": []}, "value": [6, 4]}, "labelExpr": "datum.value % 10 === 0 && datum.value < 50 ? datum.label : ''", "title": "Zeit [h]", "titlePadding": 8}},
               "y": {"field": "h", "type": "quantitative", "scale": {"domain": [0, 5], "nice": false, "clamp": true}, "axis": {"orient": "right", "values": [0,1,2,3,4,5], "title": "Heat flow [mW/gsolid]", "titlePadding": 10, "titleAngle": 270, "titleBaseline": "top"}}}}
          ],
          "resolve": {"scale": {"y": "independent"}}
        }
      ],
      "spacing": 0,
      "resolve": {"scale": {"color": "independent", "x": "independent", "y": "independent"}}
    },
    {
      "hconcat": [
        {
          "width": 539, "height": 501,
          "layer": [
            {
              "layer": [
                {"data": {"name": "C_MK"}, "mark": {"type": "errorbar", "size": 7, "thickness": 1, "rule": {"opacity": 0.45}, "ticks": {"opacity": 0.45}},
                 "encoding": {"x": {"field": "t", "type": "quantitative"}, "y": {"field": "v", "type": "quantitative", "title": "Phase quantity [wt%]", "scale": {"domain": [0, 25], "nice": false, "clamp": true}}, "yError": {"field": "e"},
                   "color": {"datum": "MK", "type": "nominal", "scale": {"domain": ["Heat flow", "MK", "CH", "C$", "AFt", "Gypsum", "C-S-H"], "range": ["black", "#ff0000", "#0000ff", "#ff8000", "#ff00ff", "#808080", "#008000"]},
                     "legend": {"orient": "top-right", "offset": 6, "title": null, "symbolType": "square", "symbolSize": 64, "symbolOpacity": 1, "symbolStrokeWidth": 0,
                       "encode": {"symbols": {"update": {"shape": {"signal": "datum.value === 'Heat flow' ? 'M-6,0H6' : 'square'"}, "stroke": {"signal": "datum.value === 'Heat flow' ? 'black' : 'transparent'"}, "strokeWidth": {"signal": "datum.value === 'Heat flow' ? 3 : 0"}}}}}}}},
                {"data": {"name": "C_CH"}, "mark": {"type": "errorbar", "size": 7, "thickness": 1, "rule": {"opacity": 0.45}, "ticks": {"opacity": 0.45}},
                 "encoding": {"x": {"field": "t", "type": "quantitative"}, "y": {"field": "v", "type": "quantitative", "title": "Phase quantity [wt%]", "scale": {"domain": [0, 25], "nice": false, "clamp": true}}, "yError": {"field": "e"}, "color": {"datum": "CH", "type": "nominal"}}},
                {"data": {"name": "C_CS"}, "mark": {"type": "errorbar", "size": 7, "thickness": 1, "rule": {"opacity": 0.45}, "ticks": {"opacity": 0.45}},
                 "encoding": {"x": {"field": "t", "type": "quantitative"}, "y": {"field": "v", "type": "quantitative", "title": "Phase quantity [wt%]", "scale": {"domain": [0, 25], "nice": false, "clamp": true}}, "yError": {"field": "e"}, "color": {"datum": "C$", "type": "nominal"}}},
                {"data": {"name": "C_AFt"}, "mark": {"type": "errorbar", "size": 7, "thickness": 1, "rule": {"opacity": 0.45}, "ticks": {"opacity": 0.45}},
                 "encoding": {"x": {"field": "t", "type": "quantitative"}, "y": {"field": "v", "type": "quantitative", "title": "Phase quantity [wt%]", "scale": {"domain": [0, 25], "nice": false, "clamp": true}}, "yError": {"field": "e"}, "color": {"datum": "AFt", "type": "nominal"}}},
                {"data": {"name": "C_Gyp"}, "mark": {"type": "errorbar", "size": 7, "thickness": 1, "rule": {"opacity": 0.45}, "ticks": {"opacity": 0.45}},
                 "encoding": {"x": {"field": "t", "type": "quantitative"}, "y": {"field": "v", "type": "quantitative", "title": "Phase quantity [wt%]", "scale": {"domain": [0, 25], "nice": false, "clamp": true}}, "yError": {"field": "e"}, "color": {"datum": "Gypsum", "type": "nominal"}}},
                {"data": {"name": "C_CSH"}, "mark": {"type": "errorbar", "size": 7, "thickness": 1, "rule": {"opacity": 0.45}, "ticks": {"opacity": 0.45}},
                 "encoding": {"x": {"field": "t", "type": "quantitative"}, "y": {"field": "v", "type": "quantitative", "title": "Phase quantity [wt%]", "scale": {"domain": [0, 25], "nice": false, "clamp": true}}, "yError": {"field": "e"}, "color": {"datum": "C-S-H", "type": "nominal"}}},
                {"data": {"name": "C_MK"}, "mark": {"type": "square", "size": 24, "opacity": 1},
                 "encoding": {"x": {"field": "t", "type": "quantitative"},
                   "y": {"field": "v", "type": "quantitative", "scale": {"domain": [0, 25], "nice": false, "clamp": true}, "axis": {"values": [0,5,10,15,20,25], "title": "Phase quantity [wt%]", "titlePadding": 8}},
                   "color": {"datum": "MK", "type": "nominal"}}},
                {"data": {"name": "C_CH"}, "mark": {"type": "square", "size": 24, "opacity": 1},
                 "encoding": {"x": {"field": "t", "type": "quantitative"}, "y": {"field": "v", "type": "quantitative"}, "color": {"datum": "CH", "type": "nominal"}}},
                {"data": {"name": "C_CS"}, "mark": {"type": "square", "size": 24, "opacity": 1},
                 "encoding": {"x": {"field": "t", "type": "quantitative"}, "y": {"field": "v", "type": "quantitative"}, "color": {"datum": "C$", "type": "nominal"}}},
                {"data": {"name": "C_AFt"}, "mark": {"type": "square", "size": 24, "opacity": 1},
                 "encoding": {"x": {"field": "t", "type": "quantitative"}, "y": {"field": "v", "type": "quantitative"}, "color": {"datum": "AFt", "type": "nominal"}}},
                {"data": {"name": "C_Gyp"}, "mark": {"type": "square", "size": 24, "opacity": 1},
                 "encoding": {"x": {"field": "t", "type": "quantitative"}, "y": {"field": "v", "type": "quantitative"}, "color": {"datum": "Gypsum", "type": "nominal"}}},
                {"data": {"name": "C_CSH"}, "mark": {"type": "square", "size": 24, "opacity": 1},
                 "encoding": {"x": {"field": "t", "type": "quantitative"}, "y": {"field": "v", "type": "quantitative"}, "color": {"datum": "C-S-H", "type": "nominal"}}},
                {"data": {"name": "C_MK"}, "transform": [{"loess": "v", "on": "t", "bandwidth": 0.3}], "mark": {"type": "line", "strokeWidth": 2.5},
                 "encoding": {"x": {"field": "t", "type": "quantitative"}, "y": {"field": "v", "type": "quantitative"}, "color": {"datum": "MK", "type": "nominal"}}},
                {"data": {"name": "C_CSH"}, "transform": [{"loess": "v", "on": "t", "bandwidth": 0.3}], "mark": {"type": "line", "strokeWidth": 2.5},
                 "encoding": {"x": {"field": "t", "type": "quantitative"}, "y": {"field": "v", "type": "quantitative"}, "color": {"datum": "C-S-H", "type": "nominal"}}},
                {"data": {"values": [{"t": 6.86, "v": 8.23, "label": "Q⁺1"}, {"t": 1.39, "v": 2.54, "label": "Q⁻"}, {"t": 26.7, "v": 23.75, "label": "Q⁺2"}, {"t": 42.5, "v": 5.64, "label": "Q⁺3"}]},
                 "mark": {"type": "text", "fontSize": 20, "align": "center", "baseline": "middle"},
                 "encoding": {"x": {"field": "t", "type": "quantitative"}, "y": {"field": "v", "type": "quantitative"}, "text": {"field": "label"}}},
                {"data": {"values": [{"t": 41.1, "v": 6.19, "t2": 34.0, "v2": 7.41}]},
                 "mark": {"type": "rule", "strokeWidth": 2.5, "color": "black"},
                 "encoding": {"x": {"field": "t", "type": "quantitative"}, "y": {"field": "v", "type": "quantitative"}, "x2": {"field": "t2"}, "y2": {"field": "v2"}}},
                {"data": {"values": [{"t": 34.0, "v": 7.41}]},
                 "mark": {"type": "point", "shape": "triangle-right", "filled": true, "size": 350, "angle": 197.6, "color": "black", "opacity": 1},
                 "encoding": {"x": {"field": "t", "type": "quantitative"}, "y": {"field": "v", "type": "quantitative"}}},
                {"data": {"values": [{"t": 1.02, "v": 23.95, "label": "C:"}]},
                 "mark": {"type": "text", "fontSize": 20, "fontWeight": "bold", "align": "left", "baseline": "alphabetic"},
                 "encoding": {"x": {"field": "t", "type": "quantitative"}, "y": {"field": "v", "type": "quantitative"}, "text": {"field": "label"}}},
                {"data": {"values": [{"t": 3.62, "v": 23.95, "label": "MK-CH-C$"}]},
                 "mark": {"type": "text", "fontSize": 20, "align": "left", "baseline": "alphabetic"},
                 "encoding": {"x": {"field": "t", "type": "quantitative"}, "y": {"field": "v", "type": "quantitative"}, "text": {"field": "label"}}}
              ]
            },
            {"data": {"name": "C_heat"}, "mark": {"type": "line", "color": "black", "strokeWidth": 3, "interpolate": "monotone"},
             "encoding": {
               "x": {"field": "t", "type": "quantitative", "scale": {"domain": [0, 50]}, "axis": {"values": [0,5,10,15,20,25,30,35,40,45,50], "grid": true, "gridColor": {"condition": {"test": "datum.value % 10 === 0", "value": "#b8b8b8"}, "value": "#c8c8c8"}, "gridDash": {"condition": {"test": "datum.value % 10 === 0", "value": []}, "value": [6, 4]}, "labelExpr": "datum.value % 10 === 0 && datum.value < 50 ? datum.label : ''", "title": "Zeit [h]", "titlePadding": 8}},
               "y": {"field": "h", "type": "quantitative", "scale": {"domain": [0, 6], "nice": false, "clamp": true}, "axis": null}}}
          ],
          "resolve": {"scale": {"y": "independent"}}
        },
        {
          "width": 539, "height": 501,
          "layer": [
            {
              "layer": [
                {"data": {"name": "D_MI"}, "mark": {"type": "errorbar", "size": 7, "thickness": 1, "rule": {"opacity": 0.45}, "ticks": {"opacity": 0.45}},
                 "encoding": {"x": {"field": "t", "type": "quantitative"}, "y": {"field": "v", "type": "quantitative", "axis": null, "scale": {"domain": [0, 25], "nice": false, "clamp": true}}, "yError": {"field": "e"},
                   "color": {"datum": "MI", "type": "nominal", "scale": {"domain": ["Heat flow", "MI", "CH", "C$", "AFt", "Gypsum", "C-S-H"], "range": ["black", "#ff0000", "#0000ff", "#ff8000", "#ff00ff", "#808080", "#008000"]},
                     "legend": {"orient": "top-right", "offset": 10, "title": null, "symbolType": "square", "symbolSize": 64, "symbolOpacity": 1, "symbolStrokeWidth": 0,
                       "encode": {"symbols": {"update": {"shape": {"signal": "datum.value === 'Heat flow' ? 'M-6,0H6' : 'square'"}, "stroke": {"signal": "datum.value === 'Heat flow' ? 'black' : 'transparent'"}, "strokeWidth": {"signal": "datum.value === 'Heat flow' ? 3 : 0"}}}}}}}},
                {"data": {"name": "D_CH"}, "mark": {"type": "errorbar", "size": 7, "thickness": 1, "rule": {"opacity": 0.45}, "ticks": {"opacity": 0.45}},
                 "encoding": {"x": {"field": "t", "type": "quantitative"}, "y": {"field": "v", "type": "quantitative", "axis": null, "scale": {"domain": [0, 25], "nice": false, "clamp": true}}, "yError": {"field": "e"}, "color": {"datum": "CH", "type": "nominal"}}},
                {"data": {"name": "D_CS"}, "mark": {"type": "errorbar", "size": 7, "thickness": 1, "rule": {"opacity": 0.45}, "ticks": {"opacity": 0.45}},
                 "encoding": {"x": {"field": "t", "type": "quantitative"}, "y": {"field": "v", "type": "quantitative", "axis": null, "scale": {"domain": [0, 25], "nice": false, "clamp": true}}, "yError": {"field": "e"}, "color": {"datum": "C$", "type": "nominal"}}},
                {"data": {"name": "D_AFt"}, "mark": {"type": "errorbar", "size": 7, "thickness": 1, "rule": {"opacity": 0.45}, "ticks": {"opacity": 0.45}},
                 "encoding": {"x": {"field": "t", "type": "quantitative"}, "y": {"field": "v", "type": "quantitative", "axis": null, "scale": {"domain": [0, 25], "nice": false, "clamp": true}}, "yError": {"field": "e"}, "color": {"datum": "AFt", "type": "nominal"}}},
                {"data": {"name": "D_Gyp"}, "mark": {"type": "errorbar", "size": 7, "thickness": 1, "rule": {"opacity": 0.45}, "ticks": {"opacity": 0.45}},
                 "encoding": {"x": {"field": "t", "type": "quantitative"}, "y": {"field": "v", "type": "quantitative", "axis": null, "scale": {"domain": [0, 25], "nice": false, "clamp": true}}, "yError": {"field": "e"}, "color": {"datum": "Gypsum", "type": "nominal"}}},
                {"data": {"name": "D_CSH"}, "mark": {"type": "errorbar", "size": 7, "thickness": 1, "rule": {"opacity": 0.45}, "ticks": {"opacity": 0.45}},
                 "encoding": {"x": {"field": "t", "type": "quantitative"}, "y": {"field": "v", "type": "quantitative", "axis": null, "scale": {"domain": [0, 25], "nice": false, "clamp": true}}, "yError": {"field": "e"}, "color": {"datum": "C-S-H", "type": "nominal"}}},
                {"data": {"name": "D_MI"}, "mark": {"type": "square", "size": 24, "opacity": 1},
                 "encoding": {"x": {"field": "t", "type": "quantitative"}, "y": {"field": "v", "type": "quantitative", "scale": {"domain": [0, 25], "nice": false, "clamp": true}, "axis": null}, "color": {"datum": "MI", "type": "nominal"}}},
                {"data": {"name": "D_CH"}, "mark": {"type": "square", "size": 24, "opacity": 1},
                 "encoding": {"x": {"field": "t", "type": "quantitative"}, "y": {"field": "v", "type": "quantitative", "axis": null}, "color": {"datum": "CH", "type": "nominal"}}},
                {"data": {"name": "D_CS"}, "mark": {"type": "square", "size": 24, "opacity": 1},
                 "encoding": {"x": {"field": "t", "type": "quantitative"}, "y": {"field": "v", "type": "quantitative", "axis": null}, "color": {"datum": "C$", "type": "nominal"}}},
                {"data": {"name": "D_AFt"}, "mark": {"type": "square", "size": 24, "opacity": 1},
                 "encoding": {"x": {"field": "t", "type": "quantitative"}, "y": {"field": "v", "type": "quantitative", "axis": null}, "color": {"datum": "AFt", "type": "nominal"}}},
                {"data": {"name": "D_Gyp"}, "mark": {"type": "square", "size": 24, "opacity": 1},
                 "encoding": {"x": {"field": "t", "type": "quantitative"}, "y": {"field": "v", "type": "quantitative", "axis": null}, "color": {"datum": "Gypsum", "type": "nominal"}}},
                {"data": {"name": "D_CSH"}, "mark": {"type": "square", "size": 24, "opacity": 1},
                 "encoding": {"x": {"field": "t", "type": "quantitative"}, "y": {"field": "v", "type": "quantitative", "axis": null}, "color": {"datum": "C-S-H", "type": "nominal"}}},
                {"data": {"name": "D_MI"}, "transform": [{"loess": "v", "on": "t", "bandwidth": 0.3}], "mark": {"type": "line", "strokeWidth": 2.5},
                 "encoding": {"x": {"field": "t", "type": "quantitative"}, "y": {"field": "v", "type": "quantitative", "axis": null}, "color": {"datum": "MI", "type": "nominal"}}},
                {"data": {"name": "D_CSH"}, "transform": [{"loess": "v", "on": "t", "bandwidth": 0.4}], "mark": {"type": "line", "strokeWidth": 2.5},
                 "encoding": {"x": {"field": "t", "type": "quantitative"}, "y": {"field": "v", "type": "quantitative", "axis": null}, "color": {"datum": "C-S-H", "type": "nominal"}}},
                {"data": {"values": [{"t": 27.8, "v": 5.44, "label": "Q⁺1"}]},
                 "mark": {"type": "text", "fontSize": 20, "align": "center", "baseline": "middle"},
                 "encoding": {"x": {"field": "t", "type": "quantitative"}, "y": {"field": "v", "type": "quantitative", "axis": null}, "text": {"field": "label"}}},
                {"data": {"values": [{"t": 1.86, "v": 23.95, "label": "D:"}]},
                 "mark": {"type": "text", "fontSize": 20, "fontWeight": "bold", "align": "left", "baseline": "alphabetic"},
                 "encoding": {"x": {"field": "t", "type": "quantitative"}, "y": {"field": "v", "type": "quantitative", "axis": null}, "text": {"field": "label"}}},
                {"data": {"values": [{"t": 4.45, "v": 23.95, "label": "MI-CH-C$"}]},
                 "mark": {"type": "text", "fontSize": 20, "align": "left", "baseline": "alphabetic"},
                 "encoding": {"x": {"field": "t", "type": "quantitative"}, "y": {"field": "v", "type": "quantitative", "axis": null}, "text": {"field": "label"}}}
              ]
            },
            {"data": {"name": "D_heat"}, "mark": {"type": "line", "color": "black", "strokeWidth": 3, "interpolate": "monotone"},
             "encoding": {
               "x": {"field": "t", "type": "quantitative", "scale": {"domain": [0, 50]}, "axis": {"values": [0,5,10,15,20,25,30,35,40,45,50], "grid": true, "gridColor": {"condition": {"test": "datum.value % 10 === 0", "value": "#b8b8b8"}, "value": "#c8c8c8"}, "gridDash": {"condition": {"test": "datum.value % 10 === 0", "value": []}, "value": [6, 4]}, "labelExpr": "datum.value % 10 === 0 && datum.value < 50 ? datum.label : ''", "title": "Zeit [h]", "titlePadding": 8}},
               "y": {"field": "h", "type": "quantitative", "scale": {"domain": [0, 6], "nice": false, "clamp": true}, "axis": {"orient": "right", "values": [0,1,2,3,4,5,6], "title": "Heat flow [mW x gsolid⁻¹]", "titlePadding": 10, "titleAngle": 270, "titleBaseline": "top"}}}}
          ],
          "resolve": {"scale": {"y": "independent"}}
        }
      ],
      "spacing": 0,
      "resolve": {"scale": {"color": "independent", "x": "independent", "y": "independent"}}
    }
  ],
  "spacing": 18,
  "resolve": {"scale": {"color": "independent", "x": "independent", "y": "independent"}},
  "config": {
    "font": "Liberation Sans",
    "view": {"stroke": "black", "strokeWidth": 3},
    "axis": {"domain": false, "ticks": false, "grid": false, "labelFontSize": 19, "labelColor": "black", "labelFlush": false, "labelOverlap": false, "labelPadding": 5, "titleFontSize": 21, "titleFontWeight": "normal", "titleColor": "black"},
    "legend": {"labelFontSize": 17, "labelColor": "black", "strokeColor": "black", "strokeWidth": 1.5, "fillColor": "white", "padding": 6, "cornerRadius": 0, "symbolType": "square", "symbolSize": 64, "symbolOpacity": 1, "symbolStrokeWidth": 0, "symbolOffset": 21, "clipHeight": 21, "rowPadding": 2.5, "labelOffset": 46, "labelLimit": 200},
    "text": {"color": "black"}
  }
}
